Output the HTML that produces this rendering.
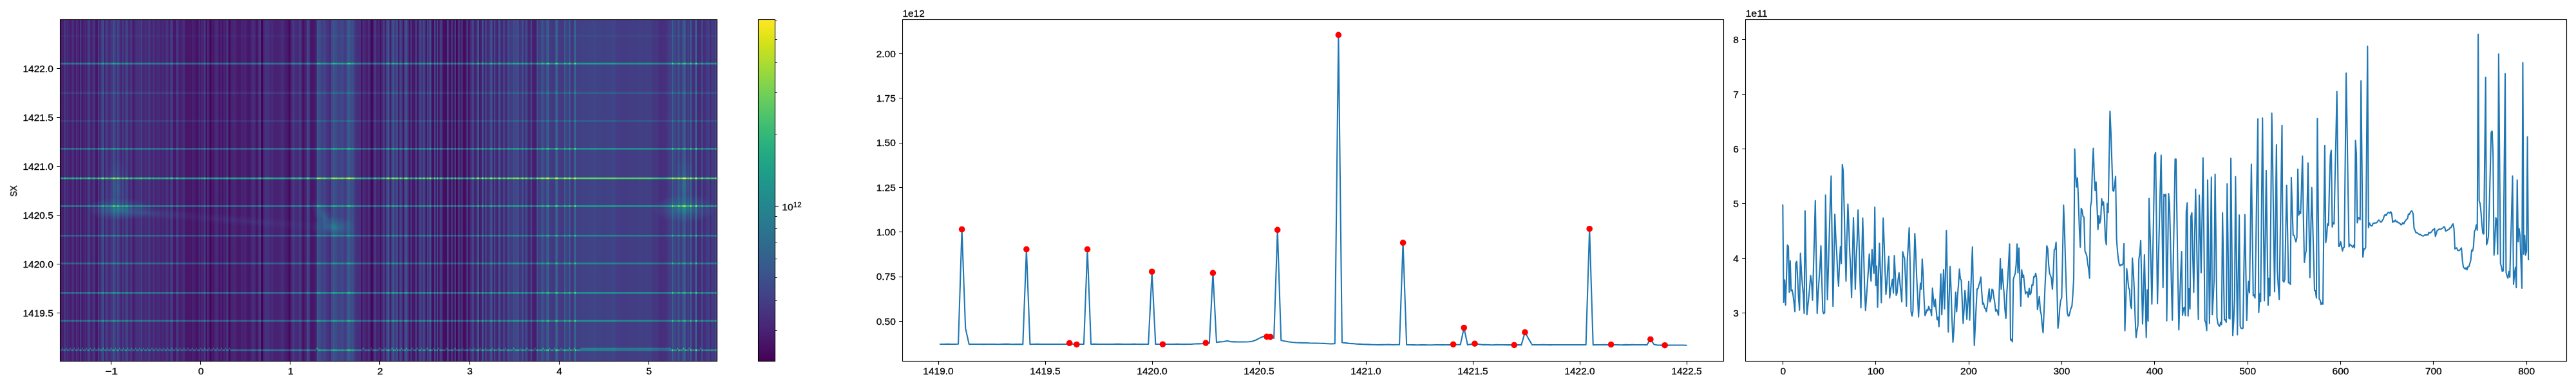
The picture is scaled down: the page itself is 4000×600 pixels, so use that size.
<!DOCTYPE html>
<html><head><meta charset="utf-8"><title>figure</title>
<style>html,body{margin:0;padding:0;background:#fff}body{width:4000px;height:600px;overflow:hidden}svg{display:block}text{font-family:"Liberation Sans",sans-serif;fill:#000}</style>
</head><body>
<svg width="4000" height="600" viewBox="0 0 4000 600">
<rect width="4000" height="600" fill="#fff"/>
<defs>
<filter id="vir" filterUnits="userSpaceOnUse" x="93.5" y="30.5" width="1020" height="531" color-interpolation-filters="sRGB">
<feColorMatrix type="matrix" values="1 1 1 0 0 1 1 1 0 0 1 1 1 0 0 0 0 0 0 1"/>
<feComponentTransfer><feFuncR type="table" tableValues="0.267 0.27 0.273 0.275 0.277 0.279 0.28 0.281 0.282 0.283 0.283 0.283 0.283 0.282 0.281 0.28 0.279 0.277 0.275 0.273 0.271 0.268 0.265 0.262 0.259 0.256 0.252 0.249 0.245 0.241 0.237 0.234 0.23 0.226 0.222 0.218 0.214 0.211 0.207 0.203 0.199 0.196 0.192 0.189 0.186 0.182 0.179 0.176 0.173 0.17 0.167 0.164 0.161 0.158 0.155 0.152 0.149 0.146 0.143 0.141 0.138 0.135 0.132 0.13 0.128 0.125 0.123 0.122 0.121 0.12 0.119 0.12 0.121 0.122 0.125 0.128 0.132 0.137 0.143 0.15 0.158 0.166 0.176 0.186 0.197 0.208 0.22 0.233 0.246 0.26 0.274 0.289 0.304 0.32 0.336 0.352 0.369 0.386 0.404 0.422 0.44 0.459 0.478 0.497 0.516 0.536 0.555 0.576 0.596 0.616 0.637 0.658 0.678 0.699 0.72 0.741 0.762 0.783 0.804 0.825 0.846 0.866 0.886 0.906 0.926 0.946 0.965 0.984 0.993"/><feFuncG type="table" tableValues="0.005 0.015 0.026 0.038 0.05 0.062 0.073 0.084 0.095 0.105 0.116 0.126 0.136 0.146 0.156 0.166 0.175 0.185 0.195 0.205 0.214 0.224 0.233 0.242 0.252 0.261 0.27 0.279 0.288 0.296 0.305 0.314 0.322 0.331 0.339 0.347 0.356 0.364 0.372 0.38 0.388 0.395 0.403 0.411 0.419 0.426 0.434 0.441 0.449 0.456 0.464 0.471 0.479 0.486 0.493 0.501 0.508 0.515 0.523 0.53 0.537 0.545 0.552 0.56 0.567 0.574 0.582 0.589 0.596 0.604 0.611 0.618 0.626 0.633 0.64 0.648 0.655 0.662 0.669 0.677 0.684 0.691 0.698 0.705 0.712 0.719 0.726 0.732 0.739 0.745 0.752 0.758 0.765 0.771 0.777 0.783 0.789 0.795 0.8 0.806 0.811 0.816 0.821 0.826 0.831 0.836 0.84 0.845 0.849 0.853 0.857 0.86 0.864 0.867 0.87 0.873 0.876 0.879 0.882 0.885 0.887 0.89 0.892 0.895 0.897 0.9 0.902 0.905 0.906"/><feFuncB type="table" tableValues="0.329 0.341 0.353 0.365 0.376 0.387 0.397 0.407 0.417 0.427 0.436 0.445 0.453 0.462 0.469 0.476 0.483 0.49 0.496 0.502 0.507 0.512 0.517 0.521 0.525 0.528 0.532 0.535 0.537 0.54 0.542 0.544 0.546 0.547 0.549 0.55 0.551 0.552 0.553 0.554 0.555 0.555 0.556 0.556 0.557 0.557 0.557 0.558 0.558 0.558 0.558 0.558 0.558 0.558 0.558 0.558 0.557 0.557 0.556 0.556 0.555 0.554 0.553 0.552 0.551 0.549 0.547 0.546 0.544 0.541 0.539 0.536 0.533 0.53 0.527 0.523 0.52 0.516 0.511 0.507 0.502 0.497 0.491 0.485 0.479 0.473 0.466 0.459 0.452 0.444 0.437 0.428 0.42 0.411 0.402 0.393 0.383 0.373 0.363 0.352 0.341 0.33 0.318 0.306 0.294 0.282 0.269 0.256 0.243 0.23 0.217 0.203 0.19 0.176 0.163 0.15 0.137 0.125 0.115 0.106 0.1 0.096 0.095 0.098 0.104 0.113 0.124 0.137 0.144"/></feComponentTransfer>
</filter>
<linearGradient id="gc" gradientUnits="userSpaceOnUse" x1="93.5" y1="0" x2="1113.5" y2="0">
<stop offset="0.00009" stop-color="#190000"/><stop offset="0.00116" stop-color="#190000"/>
<stop offset="0.00133" stop-color="#140000"/><stop offset="0.0024" stop-color="#140000"/>
<stop offset="0.00258" stop-color="#1d0000"/><stop offset="0.00365" stop-color="#1d0000"/>
<stop offset="0.00382" stop-color="#120000"/><stop offset="0.00489" stop-color="#120000"/>
<stop offset="0.00507" stop-color="#1f0000"/><stop offset="0.00614" stop-color="#1f0000"/>
<stop offset="0.00631" stop-color="#2a0000"/><stop offset="0.00738" stop-color="#2a0000"/>
<stop offset="0.00756" stop-color="#290000"/><stop offset="0.00863" stop-color="#290000"/>
<stop offset="0.0088" stop-color="#180000"/><stop offset="0.00988" stop-color="#180000"/>
<stop offset="0.01005" stop-color="#240000"/><stop offset="0.01112" stop-color="#240000"/>
<stop offset="0.0113" stop-color="#190000"/><stop offset="0.01237" stop-color="#190000"/>
<stop offset="0.01254" stop-color="#190000"/><stop offset="0.01361" stop-color="#190000"/>
<stop offset="0.01379" stop-color="#170000"/><stop offset="0.01486" stop-color="#170000"/>
<stop offset="0.01503" stop-color="#140000"/><stop offset="0.0161" stop-color="#140000"/>
<stop offset="0.01628" stop-color="#0f0000"/><stop offset="0.01735" stop-color="#0f0000"/>
<stop offset="0.01752" stop-color="#230000"/><stop offset="0.01859" stop-color="#230000"/>
<stop offset="0.01877" stop-color="#240000"/><stop offset="0.01984" stop-color="#240000"/>
<stop offset="0.02001" stop-color="#1d0000"/><stop offset="0.02108" stop-color="#1d0000"/>
<stop offset="0.02126" stop-color="#160000"/><stop offset="0.02233" stop-color="#160000"/>
<stop offset="0.0225" stop-color="#100000"/><stop offset="0.02357" stop-color="#100000"/>
<stop offset="0.02375" stop-color="#270000"/><stop offset="0.02482" stop-color="#270000"/>
<stop offset="0.02499" stop-color="#200000"/><stop offset="0.02606" stop-color="#200000"/>
<stop offset="0.02624" stop-color="#1b0000"/><stop offset="0.02731" stop-color="#1b0000"/>
<stop offset="0.02748" stop-color="#170000"/><stop offset="0.02856" stop-color="#170000"/>
<stop offset="0.02873" stop-color="#0f0000"/><stop offset="0.0298" stop-color="#0f0000"/>
<stop offset="0.02998" stop-color="#340000"/><stop offset="0.03105" stop-color="#340000"/>
<stop offset="0.03122" stop-color="#230000"/><stop offset="0.03229" stop-color="#230000"/>
<stop offset="0.03247" stop-color="#0e0000"/><stop offset="0.03354" stop-color="#0e0000"/>
<stop offset="0.03371" stop-color="#120000"/><stop offset="0.03478" stop-color="#120000"/>
<stop offset="0.03496" stop-color="#160000"/><stop offset="0.03603" stop-color="#160000"/>
<stop offset="0.0362" stop-color="#1b0000"/><stop offset="0.03727" stop-color="#1b0000"/>
<stop offset="0.03745" stop-color="#1f0000"/><stop offset="0.03852" stop-color="#1f0000"/>
<stop offset="0.03869" stop-color="#1c0000"/><stop offset="0.03976" stop-color="#1c0000"/>
<stop offset="0.03994" stop-color="#150000"/><stop offset="0.04101" stop-color="#150000"/>
<stop offset="0.04118" stop-color="#210000"/><stop offset="0.04225" stop-color="#210000"/>
<stop offset="0.04243" stop-color="#2d0000"/><stop offset="0.0435" stop-color="#2d0000"/>
<stop offset="0.04367" stop-color="#370000"/><stop offset="0.04474" stop-color="#370000"/>
<stop offset="0.04492" stop-color="#250000"/><stop offset="0.04599" stop-color="#250000"/>
<stop offset="0.04616" stop-color="#0f0000"/><stop offset="0.04724" stop-color="#0f0000"/>
<stop offset="0.04741" stop-color="#180000"/><stop offset="0.04848" stop-color="#180000"/>
<stop offset="0.04866" stop-color="#1d0000"/><stop offset="0.04973" stop-color="#1d0000"/>
<stop offset="0.0499" stop-color="#220000"/><stop offset="0.05097" stop-color="#220000"/>
<stop offset="0.05115" stop-color="#290000"/><stop offset="0.05222" stop-color="#290000"/>
<stop offset="0.05239" stop-color="#1d0000"/><stop offset="0.05346" stop-color="#1d0000"/>
<stop offset="0.05364" stop-color="#100000"/><stop offset="0.05471" stop-color="#100000"/>
<stop offset="0.05488" stop-color="#0f0000"/><stop offset="0.05595" stop-color="#0f0000"/>
<stop offset="0.05613" stop-color="#0f0000"/><stop offset="0.0572" stop-color="#0f0000"/>
<stop offset="0.05737" stop-color="#390000"/><stop offset="0.05844" stop-color="#390000"/>
<stop offset="0.05862" stop-color="#290000"/><stop offset="0.05969" stop-color="#290000"/>
<stop offset="0.05986" stop-color="#150000"/><stop offset="0.06093" stop-color="#150000"/>
<stop offset="0.06111" stop-color="#210000"/><stop offset="0.06218" stop-color="#210000"/>
<stop offset="0.06235" stop-color="#2d0000"/><stop offset="0.06342" stop-color="#2d0000"/>
<stop offset="0.0636" stop-color="#360000"/><stop offset="0.06467" stop-color="#360000"/>
<stop offset="0.06484" stop-color="#3e0000"/><stop offset="0.06592" stop-color="#3e0000"/>
<stop offset="0.06609" stop-color="#2c0000"/><stop offset="0.06716" stop-color="#2c0000"/>
<stop offset="0.06733" stop-color="#120000"/><stop offset="0.06841" stop-color="#120000"/>
<stop offset="0.06858" stop-color="#230000"/><stop offset="0.06965" stop-color="#230000"/>
<stop offset="0.06983" stop-color="#330000"/><stop offset="0.0709" stop-color="#330000"/>
<stop offset="0.07107" stop-color="#2c0000"/><stop offset="0.07214" stop-color="#2c0000"/>
<stop offset="0.07232" stop-color="#270000"/><stop offset="0.07339" stop-color="#270000"/>
<stop offset="0.07356" stop-color="#1f0000"/><stop offset="0.07463" stop-color="#1f0000"/>
<stop offset="0.07481" stop-color="#1a0000"/><stop offset="0.07588" stop-color="#1a0000"/>
<stop offset="0.07605" stop-color="#230000"/><stop offset="0.07712" stop-color="#230000"/>
<stop offset="0.0773" stop-color="#290000"/><stop offset="0.07837" stop-color="#290000"/>
<stop offset="0.07854" stop-color="#230000"/><stop offset="0.07961" stop-color="#230000"/>
<stop offset="0.07979" stop-color="#410000"/><stop offset="0.08086" stop-color="#410000"/>
<stop offset="0.08103" stop-color="#3f0000"/><stop offset="0.0821" stop-color="#3f0000"/>
<stop offset="0.08228" stop-color="#350000"/><stop offset="0.08335" stop-color="#350000"/>
<stop offset="0.08352" stop-color="#290000"/><stop offset="0.0846" stop-color="#290000"/>
<stop offset="0.08477" stop-color="#1d0000"/><stop offset="0.08584" stop-color="#1d0000"/>
<stop offset="0.08601" stop-color="#2c0000"/><stop offset="0.08709" stop-color="#2c0000"/>
<stop offset="0.08726" stop-color="#360000"/><stop offset="0.08833" stop-color="#360000"/>
<stop offset="0.08851" stop-color="#300000"/><stop offset="0.08958" stop-color="#300000"/>
<stop offset="0.08975" stop-color="#280000"/><stop offset="0.09082" stop-color="#280000"/>
<stop offset="0.091" stop-color="#210000"/><stop offset="0.09207" stop-color="#210000"/>
<stop offset="0.09224" stop-color="#160000"/><stop offset="0.09331" stop-color="#160000"/>
<stop offset="0.09349" stop-color="#260000"/><stop offset="0.09456" stop-color="#260000"/>
<stop offset="0.09473" stop-color="#320000"/><stop offset="0.0958" stop-color="#320000"/>
<stop offset="0.09598" stop-color="#270000"/><stop offset="0.09705" stop-color="#270000"/>
<stop offset="0.09722" stop-color="#190000"/><stop offset="0.09829" stop-color="#190000"/>
<stop offset="0.09847" stop-color="#250000"/><stop offset="0.09954" stop-color="#250000"/>
<stop offset="0.09971" stop-color="#2b0000"/><stop offset="0.10078" stop-color="#2b0000"/>
<stop offset="0.10096" stop-color="#340000"/><stop offset="0.10203" stop-color="#340000"/>
<stop offset="0.1022" stop-color="#2b0000"/><stop offset="0.10328" stop-color="#2b0000"/>
<stop offset="0.10345" stop-color="#1e0000"/><stop offset="0.10452" stop-color="#1e0000"/>
<stop offset="0.10469" stop-color="#110000"/><stop offset="0.10577" stop-color="#110000"/>
<stop offset="0.10594" stop-color="#250000"/><stop offset="0.10701" stop-color="#250000"/>
<stop offset="0.10719" stop-color="#320000"/><stop offset="0.10826" stop-color="#320000"/>
<stop offset="0.10843" stop-color="#270000"/><stop offset="0.1095" stop-color="#270000"/>
<stop offset="0.10968" stop-color="#1a0000"/><stop offset="0.11075" stop-color="#1a0000"/>
<stop offset="0.11092" stop-color="#100000"/><stop offset="0.11199" stop-color="#100000"/>
<stop offset="0.11217" stop-color="#160000"/><stop offset="0.11324" stop-color="#160000"/>
<stop offset="0.11341" stop-color="#1c0000"/><stop offset="0.11448" stop-color="#1c0000"/>
<stop offset="0.11466" stop-color="#210000"/><stop offset="0.11573" stop-color="#210000"/>
<stop offset="0.1159" stop-color="#270000"/><stop offset="0.11697" stop-color="#270000"/>
<stop offset="0.11715" stop-color="#210000"/><stop offset="0.11822" stop-color="#210000"/>
<stop offset="0.11839" stop-color="#1d0000"/><stop offset="0.11946" stop-color="#1d0000"/>
<stop offset="0.11964" stop-color="#280000"/><stop offset="0.12071" stop-color="#280000"/>
<stop offset="0.12088" stop-color="#230000"/><stop offset="0.12196" stop-color="#230000"/>
<stop offset="0.12213" stop-color="#200000"/><stop offset="0.1232" stop-color="#200000"/>
<stop offset="0.12337" stop-color="#350000"/><stop offset="0.12445" stop-color="#350000"/>
<stop offset="0.12462" stop-color="#1b0000"/><stop offset="0.12569" stop-color="#1b0000"/>
<stop offset="0.12587" stop-color="#220000"/><stop offset="0.12694" stop-color="#220000"/>
<stop offset="0.12711" stop-color="#110000"/><stop offset="0.12818" stop-color="#110000"/>
<stop offset="0.12836" stop-color="#1f0000"/><stop offset="0.12943" stop-color="#1f0000"/>
<stop offset="0.1296" stop-color="#2a0000"/><stop offset="0.13067" stop-color="#2a0000"/>
<stop offset="0.13085" stop-color="#200000"/><stop offset="0.13192" stop-color="#200000"/>
<stop offset="0.13209" stop-color="#140000"/><stop offset="0.13316" stop-color="#140000"/>
<stop offset="0.13334" stop-color="#240000"/><stop offset="0.13441" stop-color="#240000"/>
<stop offset="0.13458" stop-color="#320000"/><stop offset="0.13565" stop-color="#320000"/>
<stop offset="0.13583" stop-color="#2a0000"/><stop offset="0.1369" stop-color="#2a0000"/>
<stop offset="0.13707" stop-color="#210000"/><stop offset="0.13814" stop-color="#210000"/>
<stop offset="0.13832" stop-color="#170000"/><stop offset="0.13939" stop-color="#170000"/>
<stop offset="0.13956" stop-color="#1c0000"/><stop offset="0.14064" stop-color="#1c0000"/>
<stop offset="0.14081" stop-color="#220000"/><stop offset="0.14188" stop-color="#220000"/>
<stop offset="0.14205" stop-color="#260000"/><stop offset="0.14313" stop-color="#260000"/>
<stop offset="0.1433" stop-color="#160000"/><stop offset="0.14437" stop-color="#160000"/>
<stop offset="0.14455" stop-color="#190000"/><stop offset="0.14562" stop-color="#190000"/>
<stop offset="0.14579" stop-color="#1b0000"/><stop offset="0.14686" stop-color="#1b0000"/>
<stop offset="0.14704" stop-color="#1d0000"/><stop offset="0.14811" stop-color="#1d0000"/>
<stop offset="0.14828" stop-color="#180000"/><stop offset="0.14935" stop-color="#180000"/>
<stop offset="0.14953" stop-color="#260000"/><stop offset="0.1506" stop-color="#260000"/>
<stop offset="0.15077" stop-color="#1f0000"/><stop offset="0.15184" stop-color="#1f0000"/>
<stop offset="0.15202" stop-color="#170000"/><stop offset="0.15309" stop-color="#170000"/>
<stop offset="0.15326" stop-color="#180000"/><stop offset="0.15433" stop-color="#180000"/>
<stop offset="0.15451" stop-color="#1d0000"/><stop offset="0.15558" stop-color="#1d0000"/>
<stop offset="0.15575" stop-color="#200000"/><stop offset="0.15682" stop-color="#200000"/>
<stop offset="0.157" stop-color="#1c0000"/><stop offset="0.15807" stop-color="#1c0000"/>
<stop offset="0.15824" stop-color="#180000"/><stop offset="0.15932" stop-color="#180000"/>
<stop offset="0.15949" stop-color="#140000"/><stop offset="0.16056" stop-color="#140000"/>
<stop offset="0.16073" stop-color="#270000"/><stop offset="0.16181" stop-color="#270000"/>
<stop offset="0.16198" stop-color="#260000"/><stop offset="0.16305" stop-color="#260000"/>
<stop offset="0.16323" stop-color="#250000"/><stop offset="0.1643" stop-color="#250000"/>
<stop offset="0.16447" stop-color="#1d0000"/><stop offset="0.16554" stop-color="#1d0000"/>
<stop offset="0.16572" stop-color="#120000"/><stop offset="0.16679" stop-color="#120000"/>
<stop offset="0.16696" stop-color="#250000"/><stop offset="0.16803" stop-color="#250000"/>
<stop offset="0.16821" stop-color="#2a0000"/><stop offset="0.16928" stop-color="#2a0000"/>
<stop offset="0.16945" stop-color="#2f0000"/><stop offset="0.17052" stop-color="#2f0000"/>
<stop offset="0.1707" stop-color="#220000"/><stop offset="0.17177" stop-color="#220000"/>
<stop offset="0.17194" stop-color="#0f0000"/><stop offset="0.17301" stop-color="#0f0000"/>
<stop offset="0.17319" stop-color="#0d0000"/><stop offset="0.17426" stop-color="#0d0000"/>
<stop offset="0.17443" stop-color="#100000"/><stop offset="0.1755" stop-color="#100000"/>
<stop offset="0.17568" stop-color="#200000"/><stop offset="0.17675" stop-color="#200000"/>
<stop offset="0.17692" stop-color="#2d0000"/><stop offset="0.178" stop-color="#2d0000"/>
<stop offset="0.17817" stop-color="#280000"/><stop offset="0.17924" stop-color="#280000"/>
<stop offset="0.17941" stop-color="#1e0000"/><stop offset="0.18049" stop-color="#1e0000"/>
<stop offset="0.18066" stop-color="#170000"/><stop offset="0.18173" stop-color="#170000"/>
<stop offset="0.18191" stop-color="#0d0000"/><stop offset="0.18298" stop-color="#0d0000"/>
<stop offset="0.18315" stop-color="#150000"/><stop offset="0.18422" stop-color="#150000"/>
<stop offset="0.1844" stop-color="#1c0000"/><stop offset="0.18547" stop-color="#1c0000"/>
<stop offset="0.18564" stop-color="#190000"/><stop offset="0.18671" stop-color="#190000"/>
<stop offset="0.18689" stop-color="#250000"/><stop offset="0.18796" stop-color="#250000"/>
<stop offset="0.18813" stop-color="#1f0000"/><stop offset="0.1892" stop-color="#1f0000"/>
<stop offset="0.18938" stop-color="#150000"/><stop offset="0.19045" stop-color="#150000"/>
<stop offset="0.19062" stop-color="#0e0000"/><stop offset="0.19169" stop-color="#0e0000"/>
<stop offset="0.19187" stop-color="#0f0000"/><stop offset="0.19294" stop-color="#0f0000"/>
<stop offset="0.19311" stop-color="#100000"/><stop offset="0.19418" stop-color="#100000"/>
<stop offset="0.19436" stop-color="#100000"/><stop offset="0.19543" stop-color="#100000"/>
<stop offset="0.1956" stop-color="#120000"/><stop offset="0.19667" stop-color="#120000"/>
<stop offset="0.19685" stop-color="#100000"/><stop offset="0.19792" stop-color="#100000"/>
<stop offset="0.19809" stop-color="#100000"/><stop offset="0.19917" stop-color="#100000"/>
<stop offset="0.19934" stop-color="#0e0000"/><stop offset="0.20041" stop-color="#0e0000"/>
<stop offset="0.20059" stop-color="#1a0000"/><stop offset="0.20166" stop-color="#1a0000"/>
<stop offset="0.20183" stop-color="#150000"/><stop offset="0.2029" stop-color="#150000"/>
<stop offset="0.20308" stop-color="#120000"/><stop offset="0.20415" stop-color="#120000"/>
<stop offset="0.20432" stop-color="#150000"/><stop offset="0.20539" stop-color="#150000"/>
<stop offset="0.20557" stop-color="#100000"/><stop offset="0.20664" stop-color="#100000"/>
<stop offset="0.20681" stop-color="#0c0000"/><stop offset="0.20788" stop-color="#0c0000"/>
<stop offset="0.20806" stop-color="#0d0000"/><stop offset="0.20913" stop-color="#0d0000"/>
<stop offset="0.2093" stop-color="#080000"/><stop offset="0.21037" stop-color="#080000"/>
<stop offset="0.21055" stop-color="#150000"/><stop offset="0.21162" stop-color="#150000"/>
<stop offset="0.21179" stop-color="#1f0000"/><stop offset="0.21286" stop-color="#1f0000"/>
<stop offset="0.21304" stop-color="#0e0000"/><stop offset="0.21411" stop-color="#0e0000"/>
<stop offset="0.21428" stop-color="#180000"/><stop offset="0.21535" stop-color="#180000"/>
<stop offset="0.21553" stop-color="#210000"/><stop offset="0.2166" stop-color="#210000"/>
<stop offset="0.21677" stop-color="#110000"/><stop offset="0.21785" stop-color="#110000"/>
<stop offset="0.21802" stop-color="#1f0000"/><stop offset="0.21909" stop-color="#1f0000"/>
<stop offset="0.21927" stop-color="#2e0000"/><stop offset="0.22034" stop-color="#2e0000"/>
<stop offset="0.22051" stop-color="#1c0000"/><stop offset="0.22158" stop-color="#1c0000"/>
<stop offset="0.22176" stop-color="#050000"/><stop offset="0.22283" stop-color="#050000"/>
<stop offset="0.223" stop-color="#160000"/><stop offset="0.22407" stop-color="#160000"/>
<stop offset="0.22425" stop-color="#220000"/><stop offset="0.22532" stop-color="#220000"/>
<stop offset="0.22549" stop-color="#190000"/><stop offset="0.22656" stop-color="#190000"/>
<stop offset="0.22674" stop-color="#0c0000"/><stop offset="0.22781" stop-color="#0c0000"/>
<stop offset="0.22798" stop-color="#000000"/><stop offset="0.22905" stop-color="#000000"/>
<stop offset="0.22923" stop-color="#060000"/><stop offset="0.2303" stop-color="#060000"/>
<stop offset="0.23047" stop-color="#100000"/><stop offset="0.23154" stop-color="#100000"/>
<stop offset="0.23172" stop-color="#180000"/><stop offset="0.23279" stop-color="#180000"/>
<stop offset="0.23296" stop-color="#0f0000"/><stop offset="0.23403" stop-color="#0f0000"/>
<stop offset="0.23421" stop-color="#170000"/><stop offset="0.23528" stop-color="#170000"/>
<stop offset="0.23545" stop-color="#1b0000"/><stop offset="0.23653" stop-color="#1b0000"/>
<stop offset="0.2367" stop-color="#210000"/><stop offset="0.23777" stop-color="#210000"/>
<stop offset="0.23795" stop-color="#1d0000"/><stop offset="0.23902" stop-color="#1d0000"/>
<stop offset="0.23919" stop-color="#1d0000"/><stop offset="0.24026" stop-color="#1d0000"/>
<stop offset="0.24044" stop-color="#140000"/><stop offset="0.24151" stop-color="#140000"/>
<stop offset="0.24168" stop-color="#0a0000"/><stop offset="0.24275" stop-color="#0a0000"/>
<stop offset="0.24293" stop-color="#110000"/><stop offset="0.244" stop-color="#110000"/>
<stop offset="0.24417" stop-color="#190000"/><stop offset="0.24524" stop-color="#190000"/>
<stop offset="0.24542" stop-color="#140000"/><stop offset="0.24649" stop-color="#140000"/>
<stop offset="0.24666" stop-color="#0c0000"/><stop offset="0.24773" stop-color="#0c0000"/>
<stop offset="0.24791" stop-color="#140000"/><stop offset="0.24898" stop-color="#140000"/>
<stop offset="0.24915" stop-color="#1c0000"/><stop offset="0.25022" stop-color="#1c0000"/>
<stop offset="0.2504" stop-color="#0b0000"/><stop offset="0.25147" stop-color="#0b0000"/>
<stop offset="0.25164" stop-color="#170000"/><stop offset="0.25271" stop-color="#170000"/>
<stop offset="0.25289" stop-color="#210000"/><stop offset="0.25396" stop-color="#210000"/>
<stop offset="0.25413" stop-color="#290000"/><stop offset="0.25521" stop-color="#290000"/>
<stop offset="0.25538" stop-color="#180000"/><stop offset="0.25645" stop-color="#180000"/>
<stop offset="0.25663" stop-color="#000000"/><stop offset="0.2577" stop-color="#000000"/>
<stop offset="0.25787" stop-color="#080000"/><stop offset="0.25894" stop-color="#080000"/>
<stop offset="0.25912" stop-color="#120000"/><stop offset="0.26019" stop-color="#120000"/>
<stop offset="0.26036" stop-color="#190000"/><stop offset="0.26143" stop-color="#190000"/>
<stop offset="0.26161" stop-color="#1a0000"/><stop offset="0.26268" stop-color="#1a0000"/>
<stop offset="0.26285" stop-color="#1b0000"/><stop offset="0.26392" stop-color="#1b0000"/>
<stop offset="0.2641" stop-color="#1c0000"/><stop offset="0.26517" stop-color="#1c0000"/>
<stop offset="0.26534" stop-color="#1e0000"/><stop offset="0.26641" stop-color="#1e0000"/>
<stop offset="0.26659" stop-color="#180000"/><stop offset="0.26766" stop-color="#180000"/>
<stop offset="0.26783" stop-color="#130000"/><stop offset="0.2689" stop-color="#130000"/>
<stop offset="0.26908" stop-color="#130000"/><stop offset="0.27015" stop-color="#130000"/>
<stop offset="0.27032" stop-color="#110000"/><stop offset="0.27139" stop-color="#110000"/>
<stop offset="0.27157" stop-color="#110000"/><stop offset="0.27264" stop-color="#110000"/>
<stop offset="0.27281" stop-color="#0f0000"/><stop offset="0.27389" stop-color="#0f0000"/>
<stop offset="0.27406" stop-color="#120000"/><stop offset="0.27513" stop-color="#120000"/>
<stop offset="0.27531" stop-color="#160000"/><stop offset="0.27638" stop-color="#160000"/>
<stop offset="0.27655" stop-color="#190000"/><stop offset="0.27762" stop-color="#190000"/>
<stop offset="0.2778" stop-color="#140000"/><stop offset="0.27887" stop-color="#140000"/>
<stop offset="0.27904" stop-color="#150000"/><stop offset="0.28011" stop-color="#150000"/>
<stop offset="0.28029" stop-color="#190000"/><stop offset="0.28136" stop-color="#190000"/>
<stop offset="0.28153" stop-color="#190000"/><stop offset="0.2826" stop-color="#190000"/>
<stop offset="0.28278" stop-color="#160000"/><stop offset="0.28385" stop-color="#160000"/>
<stop offset="0.28402" stop-color="#140000"/><stop offset="0.28509" stop-color="#140000"/>
<stop offset="0.28527" stop-color="#100000"/><stop offset="0.28634" stop-color="#100000"/>
<stop offset="0.28651" stop-color="#100000"/><stop offset="0.28758" stop-color="#100000"/>
<stop offset="0.28776" stop-color="#0f0000"/><stop offset="0.28883" stop-color="#0f0000"/>
<stop offset="0.289" stop-color="#0e0000"/><stop offset="0.29007" stop-color="#0e0000"/>
<stop offset="0.29025" stop-color="#1b0000"/><stop offset="0.29132" stop-color="#1b0000"/>
<stop offset="0.29149" stop-color="#250000"/><stop offset="0.29257" stop-color="#250000"/>
<stop offset="0.29274" stop-color="#190000"/><stop offset="0.29381" stop-color="#190000"/>
<stop offset="0.29399" stop-color="#210000"/><stop offset="0.29506" stop-color="#210000"/>
<stop offset="0.29523" stop-color="#1c0000"/><stop offset="0.2963" stop-color="#1c0000"/>
<stop offset="0.29648" stop-color="#180000"/><stop offset="0.29755" stop-color="#180000"/>
<stop offset="0.29772" stop-color="#100000"/><stop offset="0.29879" stop-color="#100000"/>
<stop offset="0.29897" stop-color="#0c0000"/><stop offset="0.30004" stop-color="#0c0000"/>
<stop offset="0.30021" stop-color="#180000"/><stop offset="0.30128" stop-color="#180000"/>
<stop offset="0.30146" stop-color="#1e0000"/><stop offset="0.30253" stop-color="#1e0000"/>
<stop offset="0.3027" stop-color="#240000"/><stop offset="0.30377" stop-color="#240000"/>
<stop offset="0.30395" stop-color="#2a0000"/><stop offset="0.30502" stop-color="#2a0000"/>
<stop offset="0.30519" stop-color="#010000"/><stop offset="0.30626" stop-color="#010000"/>
<stop offset="0.30644" stop-color="#010000"/><stop offset="0.30751" stop-color="#010000"/>
<stop offset="0.30768" stop-color="#000000"/><stop offset="0.30875" stop-color="#000000"/>
<stop offset="0.30893" stop-color="#1d0000"/><stop offset="0.31" stop-color="#1d0000"/>
<stop offset="0.31017" stop-color="#1f0000"/><stop offset="0.31125" stop-color="#1f0000"/>
<stop offset="0.31142" stop-color="#1f0000"/><stop offset="0.31249" stop-color="#1f0000"/>
<stop offset="0.31267" stop-color="#230000"/><stop offset="0.31374" stop-color="#230000"/>
<stop offset="0.31391" stop-color="#2a0000"/><stop offset="0.31498" stop-color="#2a0000"/>
<stop offset="0.31516" stop-color="#200000"/><stop offset="0.31623" stop-color="#200000"/>
<stop offset="0.3164" stop-color="#290000"/><stop offset="0.31747" stop-color="#290000"/>
<stop offset="0.31765" stop-color="#1e0000"/><stop offset="0.31872" stop-color="#1e0000"/>
<stop offset="0.31889" stop-color="#120000"/><stop offset="0.31996" stop-color="#120000"/>
<stop offset="0.32014" stop-color="#210000"/><stop offset="0.32121" stop-color="#210000"/>
<stop offset="0.32138" stop-color="#1e0000"/><stop offset="0.32245" stop-color="#1e0000"/>
<stop offset="0.32263" stop-color="#1f0000"/><stop offset="0.3237" stop-color="#1f0000"/>
<stop offset="0.32387" stop-color="#1b0000"/><stop offset="0.32494" stop-color="#1b0000"/>
<stop offset="0.32512" stop-color="#170000"/><stop offset="0.32619" stop-color="#170000"/>
<stop offset="0.32636" stop-color="#180000"/><stop offset="0.32743" stop-color="#180000"/>
<stop offset="0.32761" stop-color="#180000"/><stop offset="0.32868" stop-color="#180000"/>
<stop offset="0.32885" stop-color="#160000"/><stop offset="0.32993" stop-color="#160000"/>
<stop offset="0.3301" stop-color="#1a0000"/><stop offset="0.33117" stop-color="#1a0000"/>
<stop offset="0.33134" stop-color="#170000"/><stop offset="0.33242" stop-color="#170000"/>
<stop offset="0.33259" stop-color="#180000"/><stop offset="0.33366" stop-color="#180000"/>
<stop offset="0.33384" stop-color="#1b0000"/><stop offset="0.33491" stop-color="#1b0000"/>
<stop offset="0.33508" stop-color="#1b0000"/><stop offset="0.33615" stop-color="#1b0000"/>
<stop offset="0.33633" stop-color="#1e0000"/><stop offset="0.3374" stop-color="#1e0000"/>
<stop offset="0.33757" stop-color="#1e0000"/><stop offset="0.33864" stop-color="#1e0000"/>
<stop offset="0.33882" stop-color="#200000"/><stop offset="0.33989" stop-color="#200000"/>
<stop offset="0.34006" stop-color="#1e0000"/><stop offset="0.34113" stop-color="#1e0000"/>
<stop offset="0.34131" stop-color="#100000"/><stop offset="0.34238" stop-color="#100000"/>
<stop offset="0.34255" stop-color="#140000"/><stop offset="0.34362" stop-color="#140000"/>
<stop offset="0.3438" stop-color="#160000"/><stop offset="0.34487" stop-color="#160000"/>
<stop offset="0.34504" stop-color="#100000"/><stop offset="0.34611" stop-color="#100000"/>
<stop offset="0.34629" stop-color="#0e0000"/><stop offset="0.34736" stop-color="#0e0000"/>
<stop offset="0.34753" stop-color="#090000"/><stop offset="0.34861" stop-color="#090000"/>
<stop offset="0.34878" stop-color="#050000"/><stop offset="0.34985" stop-color="#050000"/>
<stop offset="0.35002" stop-color="#100000"/><stop offset="0.3511" stop-color="#100000"/>
<stop offset="0.35127" stop-color="#1a0000"/><stop offset="0.35234" stop-color="#1a0000"/>
<stop offset="0.35252" stop-color="#210000"/><stop offset="0.35359" stop-color="#210000"/>
<stop offset="0.35376" stop-color="#290000"/><stop offset="0.35483" stop-color="#290000"/>
<stop offset="0.35501" stop-color="#280000"/><stop offset="0.35608" stop-color="#280000"/>
<stop offset="0.35625" stop-color="#230000"/><stop offset="0.35732" stop-color="#230000"/>
<stop offset="0.3575" stop-color="#1f0000"/><stop offset="0.35857" stop-color="#1f0000"/>
<stop offset="0.35874" stop-color="#1f0000"/><stop offset="0.35981" stop-color="#1f0000"/>
<stop offset="0.35999" stop-color="#1d0000"/><stop offset="0.36106" stop-color="#1d0000"/>
<stop offset="0.36123" stop-color="#190000"/><stop offset="0.3623" stop-color="#190000"/>
<stop offset="0.36248" stop-color="#200000"/><stop offset="0.36355" stop-color="#200000"/>
<stop offset="0.36372" stop-color="#280000"/><stop offset="0.36479" stop-color="#280000"/>
<stop offset="0.36497" stop-color="#280000"/><stop offset="0.36604" stop-color="#280000"/>
<stop offset="0.36621" stop-color="#2b0000"/><stop offset="0.36729" stop-color="#2b0000"/>
<stop offset="0.36746" stop-color="#190000"/><stop offset="0.36853" stop-color="#190000"/>
<stop offset="0.3687" stop-color="#070000"/><stop offset="0.36978" stop-color="#070000"/>
<stop offset="0.36995" stop-color="#0b0000"/><stop offset="0.37102" stop-color="#0b0000"/>
<stop offset="0.3712" stop-color="#110000"/><stop offset="0.37227" stop-color="#110000"/>
<stop offset="0.37244" stop-color="#150000"/><stop offset="0.37351" stop-color="#150000"/>
<stop offset="0.37369" stop-color="#160000"/><stop offset="0.37476" stop-color="#160000"/>
<stop offset="0.37493" stop-color="#260000"/><stop offset="0.376" stop-color="#260000"/>
<stop offset="0.37618" stop-color="#360000"/><stop offset="0.37725" stop-color="#360000"/>
<stop offset="0.37742" stop-color="#2f0000"/><stop offset="0.37849" stop-color="#2f0000"/>
<stop offset="0.37867" stop-color="#240000"/><stop offset="0.37974" stop-color="#240000"/>
<stop offset="0.37991" stop-color="#190000"/><stop offset="0.38098" stop-color="#190000"/>
<stop offset="0.38116" stop-color="#0f0000"/><stop offset="0.38223" stop-color="#0f0000"/>
<stop offset="0.3824" stop-color="#0d0000"/><stop offset="0.38347" stop-color="#0d0000"/>
<stop offset="0.38365" stop-color="#0e0000"/><stop offset="0.38472" stop-color="#0e0000"/>
<stop offset="0.38489" stop-color="#0f0000"/><stop offset="0.38597" stop-color="#0f0000"/>
<stop offset="0.38614" stop-color="#110000"/><stop offset="0.38721" stop-color="#110000"/>
<stop offset="0.38738" stop-color="#120000"/><stop offset="0.38846" stop-color="#120000"/>
<stop offset="0.38863" stop-color="#170000"/><stop offset="0.3897" stop-color="#170000"/>
<stop offset="0.38988" stop-color="#1e0000"/><stop offset="0.39095" stop-color="#1e0000"/>
<stop offset="0.39112" stop-color="#440000"/><stop offset="0.39219" stop-color="#440000"/>
<stop offset="0.39237" stop-color="#3e0000"/><stop offset="0.39344" stop-color="#3e0000"/>
<stop offset="0.39361" stop-color="#3b0000"/><stop offset="0.39468" stop-color="#3b0000"/>
<stop offset="0.39486" stop-color="#3d0000"/><stop offset="0.39593" stop-color="#3d0000"/>
<stop offset="0.3961" stop-color="#370000"/><stop offset="0.39717" stop-color="#370000"/>
<stop offset="0.39735" stop-color="#2f0000"/><stop offset="0.39842" stop-color="#2f0000"/>
<stop offset="0.39859" stop-color="#290000"/><stop offset="0.39966" stop-color="#290000"/>
<stop offset="0.39984" stop-color="#350000"/><stop offset="0.40091" stop-color="#350000"/>
<stop offset="0.40108" stop-color="#340000"/><stop offset="0.40215" stop-color="#340000"/>
<stop offset="0.40233" stop-color="#330000"/><stop offset="0.4034" stop-color="#330000"/>
<stop offset="0.40357" stop-color="#320000"/><stop offset="0.40465" stop-color="#320000"/>
<stop offset="0.40482" stop-color="#280000"/><stop offset="0.40589" stop-color="#280000"/>
<stop offset="0.40606" stop-color="#270000"/><stop offset="0.40714" stop-color="#270000"/>
<stop offset="0.40731" stop-color="#260000"/><stop offset="0.40838" stop-color="#260000"/>
<stop offset="0.40856" stop-color="#230000"/><stop offset="0.40963" stop-color="#230000"/>
<stop offset="0.4098" stop-color="#210000"/><stop offset="0.41087" stop-color="#210000"/>
<stop offset="0.41105" stop-color="#1e0000"/><stop offset="0.41212" stop-color="#1e0000"/>
<stop offset="0.41229" stop-color="#350000"/><stop offset="0.41336" stop-color="#350000"/>
<stop offset="0.41354" stop-color="#370000"/><stop offset="0.41461" stop-color="#370000"/>
<stop offset="0.41478" stop-color="#3f0000"/><stop offset="0.41585" stop-color="#3f0000"/>
<stop offset="0.41603" stop-color="#440000"/><stop offset="0.4171" stop-color="#440000"/>
<stop offset="0.41727" stop-color="#3e0000"/><stop offset="0.41834" stop-color="#3e0000"/>
<stop offset="0.41852" stop-color="#3a0000"/><stop offset="0.41959" stop-color="#3a0000"/>
<stop offset="0.41976" stop-color="#3c0000"/><stop offset="0.42083" stop-color="#3c0000"/>
<stop offset="0.42101" stop-color="#360000"/><stop offset="0.42208" stop-color="#360000"/>
<stop offset="0.42225" stop-color="#2f0000"/><stop offset="0.42333" stop-color="#2f0000"/>
<stop offset="0.4235" stop-color="#330000"/><stop offset="0.42457" stop-color="#330000"/>
<stop offset="0.42474" stop-color="#310000"/><stop offset="0.42582" stop-color="#310000"/>
<stop offset="0.42599" stop-color="#320000"/><stop offset="0.42706" stop-color="#320000"/>
<stop offset="0.42724" stop-color="#380000"/><stop offset="0.42831" stop-color="#380000"/>
<stop offset="0.42848" stop-color="#360000"/><stop offset="0.42955" stop-color="#360000"/>
<stop offset="0.42973" stop-color="#370000"/><stop offset="0.4308" stop-color="#370000"/>
<stop offset="0.43097" stop-color="#330000"/><stop offset="0.43204" stop-color="#330000"/>
<stop offset="0.43222" stop-color="#2c0000"/><stop offset="0.43329" stop-color="#2c0000"/>
<stop offset="0.43346" stop-color="#2a0000"/><stop offset="0.43453" stop-color="#2a0000"/>
<stop offset="0.43471" stop-color="#360000"/><stop offset="0.43578" stop-color="#360000"/>
<stop offset="0.43595" stop-color="#340000"/><stop offset="0.43702" stop-color="#340000"/>
<stop offset="0.4372" stop-color="#410000"/><stop offset="0.43827" stop-color="#410000"/>
<stop offset="0.43844" stop-color="#4d0000"/><stop offset="0.43951" stop-color="#4d0000"/>
<stop offset="0.43969" stop-color="#480000"/><stop offset="0.44076" stop-color="#480000"/>
<stop offset="0.44093" stop-color="#410000"/><stop offset="0.442" stop-color="#410000"/>
<stop offset="0.44218" stop-color="#3a0000"/><stop offset="0.44325" stop-color="#3a0000"/>
<stop offset="0.44342" stop-color="#3a0000"/><stop offset="0.4445" stop-color="#3a0000"/>
<stop offset="0.44467" stop-color="#3c0000"/><stop offset="0.44574" stop-color="#3c0000"/>
<stop offset="0.44592" stop-color="#3e0000"/><stop offset="0.44699" stop-color="#3e0000"/>
<stop offset="0.44716" stop-color="#2c0000"/><stop offset="0.44823" stop-color="#2c0000"/>
<stop offset="0.44841" stop-color="#280000"/><stop offset="0.44948" stop-color="#280000"/>
<stop offset="0.44965" stop-color="#250000"/><stop offset="0.45072" stop-color="#250000"/>
<stop offset="0.4509" stop-color="#230000"/><stop offset="0.45197" stop-color="#230000"/>
<stop offset="0.45214" stop-color="#220000"/><stop offset="0.45321" stop-color="#220000"/>
<stop offset="0.45339" stop-color="#230000"/><stop offset="0.45446" stop-color="#230000"/>
<stop offset="0.45463" stop-color="#230000"/><stop offset="0.4557" stop-color="#230000"/>
<stop offset="0.45588" stop-color="#230000"/><stop offset="0.45695" stop-color="#230000"/>
<stop offset="0.45712" stop-color="#2a0000"/><stop offset="0.45819" stop-color="#2a0000"/>
<stop offset="0.45837" stop-color="#060000"/><stop offset="0.45944" stop-color="#060000"/>
<stop offset="0.45961" stop-color="#140000"/><stop offset="0.46068" stop-color="#140000"/>
<stop offset="0.46086" stop-color="#210000"/><stop offset="0.46193" stop-color="#210000"/>
<stop offset="0.4621" stop-color="#1e0000"/><stop offset="0.46318" stop-color="#1e0000"/>
<stop offset="0.46335" stop-color="#1a0000"/><stop offset="0.46442" stop-color="#1a0000"/>
<stop offset="0.4646" stop-color="#190000"/><stop offset="0.46567" stop-color="#190000"/>
<stop offset="0.46584" stop-color="#120000"/><stop offset="0.46691" stop-color="#120000"/>
<stop offset="0.46709" stop-color="#110000"/><stop offset="0.46816" stop-color="#110000"/>
<stop offset="0.46833" stop-color="#250000"/><stop offset="0.4694" stop-color="#250000"/>
<stop offset="0.46958" stop-color="#210000"/><stop offset="0.47065" stop-color="#210000"/>
<stop offset="0.47082" stop-color="#190000"/><stop offset="0.47189" stop-color="#190000"/>
<stop offset="0.47207" stop-color="#0d0000"/><stop offset="0.47314" stop-color="#0d0000"/>
<stop offset="0.47331" stop-color="#020000"/><stop offset="0.47438" stop-color="#020000"/>
<stop offset="0.47456" stop-color="#060000"/><stop offset="0.47563" stop-color="#060000"/>
<stop offset="0.4758" stop-color="#090000"/><stop offset="0.47687" stop-color="#090000"/>
<stop offset="0.47705" stop-color="#250000"/><stop offset="0.47812" stop-color="#250000"/>
<stop offset="0.47829" stop-color="#270000"/><stop offset="0.47936" stop-color="#270000"/>
<stop offset="0.47954" stop-color="#2b0000"/><stop offset="0.48061" stop-color="#2b0000"/>
<stop offset="0.48078" stop-color="#1c0000"/><stop offset="0.48186" stop-color="#1c0000"/>
<stop offset="0.48203" stop-color="#090000"/><stop offset="0.4831" stop-color="#090000"/>
<stop offset="0.48328" stop-color="#190000"/><stop offset="0.48435" stop-color="#190000"/>
<stop offset="0.48452" stop-color="#260000"/><stop offset="0.48559" stop-color="#260000"/>
<stop offset="0.48577" stop-color="#160000"/><stop offset="0.48684" stop-color="#160000"/>
<stop offset="0.48701" stop-color="#020000"/><stop offset="0.48808" stop-color="#020000"/>
<stop offset="0.48826" stop-color="#190000"/><stop offset="0.48933" stop-color="#190000"/>
<stop offset="0.4895" stop-color="#0b0000"/><stop offset="0.49057" stop-color="#0b0000"/>
<stop offset="0.49075" stop-color="#380000"/><stop offset="0.49182" stop-color="#380000"/>
<stop offset="0.49199" stop-color="#2e0000"/><stop offset="0.49306" stop-color="#2e0000"/>
<stop offset="0.49324" stop-color="#230000"/><stop offset="0.49431" stop-color="#230000"/>
<stop offset="0.49448" stop-color="#130000"/><stop offset="0.49555" stop-color="#130000"/>
<stop offset="0.49573" stop-color="#260000"/><stop offset="0.4968" stop-color="#260000"/>
<stop offset="0.49697" stop-color="#350000"/><stop offset="0.49804" stop-color="#350000"/>
<stop offset="0.49822" stop-color="#430000"/><stop offset="0.49929" stop-color="#430000"/>
<stop offset="0.49946" stop-color="#440000"/><stop offset="0.50054" stop-color="#440000"/>
<stop offset="0.50071" stop-color="#300000"/><stop offset="0.50178" stop-color="#300000"/>
<stop offset="0.50196" stop-color="#130000"/><stop offset="0.50303" stop-color="#130000"/>
<stop offset="0.5032" stop-color="#230000"/><stop offset="0.50427" stop-color="#230000"/>
<stop offset="0.50445" stop-color="#300000"/><stop offset="0.50552" stop-color="#300000"/>
<stop offset="0.50569" stop-color="#3a0000"/><stop offset="0.50676" stop-color="#3a0000"/>
<stop offset="0.50694" stop-color="#430000"/><stop offset="0.50801" stop-color="#430000"/>
<stop offset="0.50818" stop-color="#310000"/><stop offset="0.50925" stop-color="#310000"/>
<stop offset="0.50943" stop-color="#1a0000"/><stop offset="0.5105" stop-color="#1a0000"/>
<stop offset="0.51067" stop-color="#390000"/><stop offset="0.51174" stop-color="#390000"/>
<stop offset="0.51192" stop-color="#380000"/><stop offset="0.51299" stop-color="#380000"/>
<stop offset="0.51316" stop-color="#390000"/><stop offset="0.51423" stop-color="#390000"/>
<stop offset="0.51441" stop-color="#0b0000"/><stop offset="0.51548" stop-color="#0b0000"/>
<stop offset="0.51565" stop-color="#260000"/><stop offset="0.51672" stop-color="#260000"/>
<stop offset="0.5169" stop-color="#390000"/><stop offset="0.51797" stop-color="#390000"/>
<stop offset="0.51814" stop-color="#360000"/><stop offset="0.51922" stop-color="#360000"/>
<stop offset="0.51939" stop-color="#2b0000"/><stop offset="0.52046" stop-color="#2b0000"/>
<stop offset="0.52064" stop-color="#1c0000"/><stop offset="0.52171" stop-color="#1c0000"/>
<stop offset="0.52188" stop-color="#0b0000"/><stop offset="0.52295" stop-color="#0b0000"/>
<stop offset="0.52313" stop-color="#230000"/><stop offset="0.5242" stop-color="#230000"/>
<stop offset="0.52437" stop-color="#340000"/><stop offset="0.52544" stop-color="#340000"/>
<stop offset="0.52562" stop-color="#420000"/><stop offset="0.52669" stop-color="#420000"/>
<stop offset="0.52686" stop-color="#420000"/><stop offset="0.52793" stop-color="#420000"/>
<stop offset="0.52811" stop-color="#320000"/><stop offset="0.52918" stop-color="#320000"/>
<stop offset="0.52935" stop-color="#1e0000"/><stop offset="0.53042" stop-color="#1e0000"/>
<stop offset="0.5306" stop-color="#070000"/><stop offset="0.53167" stop-color="#070000"/>
<stop offset="0.53184" stop-color="#140000"/><stop offset="0.53291" stop-color="#140000"/>
<stop offset="0.53309" stop-color="#200000"/><stop offset="0.53416" stop-color="#200000"/>
<stop offset="0.53433" stop-color="#270000"/><stop offset="0.5354" stop-color="#270000"/>
<stop offset="0.53558" stop-color="#0e0000"/><stop offset="0.53665" stop-color="#0e0000"/>
<stop offset="0.53682" stop-color="#110000"/><stop offset="0.5379" stop-color="#110000"/>
<stop offset="0.53807" stop-color="#110000"/><stop offset="0.53914" stop-color="#110000"/>
<stop offset="0.53932" stop-color="#0e0000"/><stop offset="0.54039" stop-color="#0e0000"/>
<stop offset="0.54056" stop-color="#340000"/><stop offset="0.54163" stop-color="#340000"/>
<stop offset="0.54181" stop-color="#370000"/><stop offset="0.54288" stop-color="#370000"/>
<stop offset="0.54305" stop-color="#0d0000"/><stop offset="0.54412" stop-color="#0d0000"/>
<stop offset="0.5443" stop-color="#190000"/><stop offset="0.54537" stop-color="#190000"/>
<stop offset="0.54554" stop-color="#110000"/><stop offset="0.54661" stop-color="#110000"/>
<stop offset="0.54679" stop-color="#330000"/><stop offset="0.54786" stop-color="#330000"/>
<stop offset="0.54803" stop-color="#340000"/><stop offset="0.5491" stop-color="#340000"/>
<stop offset="0.54928" stop-color="#270000"/><stop offset="0.55035" stop-color="#270000"/>
<stop offset="0.55052" stop-color="#180000"/><stop offset="0.55159" stop-color="#180000"/>
<stop offset="0.55177" stop-color="#2c0000"/><stop offset="0.55284" stop-color="#2c0000"/>
<stop offset="0.55301" stop-color="#3a0000"/><stop offset="0.55408" stop-color="#3a0000"/>
<stop offset="0.55426" stop-color="#2e0000"/><stop offset="0.55533" stop-color="#2e0000"/>
<stop offset="0.5555" stop-color="#1e0000"/><stop offset="0.55658" stop-color="#1e0000"/>
<stop offset="0.55675" stop-color="#0c0000"/><stop offset="0.55782" stop-color="#0c0000"/>
<stop offset="0.558" stop-color="#390000"/><stop offset="0.55907" stop-color="#390000"/>
<stop offset="0.55924" stop-color="#2e0000"/><stop offset="0.56031" stop-color="#2e0000"/>
<stop offset="0.56049" stop-color="#200000"/><stop offset="0.56156" stop-color="#200000"/>
<stop offset="0.56173" stop-color="#330000"/><stop offset="0.5628" stop-color="#330000"/>
<stop offset="0.56298" stop-color="#420000"/><stop offset="0.56405" stop-color="#420000"/>
<stop offset="0.56422" stop-color="#2c0000"/><stop offset="0.56529" stop-color="#2c0000"/>
<stop offset="0.56547" stop-color="#0b0000"/><stop offset="0.56654" stop-color="#0b0000"/>
<stop offset="0.56671" stop-color="#0a0000"/><stop offset="0.56778" stop-color="#0a0000"/>
<stop offset="0.56796" stop-color="#060000"/><stop offset="0.56903" stop-color="#060000"/>
<stop offset="0.5692" stop-color="#3d0000"/><stop offset="0.57027" stop-color="#3d0000"/>
<stop offset="0.57045" stop-color="#270000"/><stop offset="0.57152" stop-color="#270000"/>
<stop offset="0.57169" stop-color="#0a0000"/><stop offset="0.57276" stop-color="#0a0000"/>
<stop offset="0.57294" stop-color="#270000"/><stop offset="0.57401" stop-color="#270000"/>
<stop offset="0.57418" stop-color="#3d0000"/><stop offset="0.57526" stop-color="#3d0000"/>
<stop offset="0.57543" stop-color="#0e0000"/><stop offset="0.5765" stop-color="#0e0000"/>
<stop offset="0.57667" stop-color="#160000"/><stop offset="0.57775" stop-color="#160000"/>
<stop offset="0.57792" stop-color="#1d0000"/><stop offset="0.57899" stop-color="#1d0000"/>
<stop offset="0.57917" stop-color="#3e0000"/><stop offset="0.58024" stop-color="#3e0000"/>
<stop offset="0.58041" stop-color="#2b0000"/><stop offset="0.58148" stop-color="#2b0000"/>
<stop offset="0.58166" stop-color="#0d0000"/><stop offset="0.58273" stop-color="#0d0000"/>
<stop offset="0.5829" stop-color="#0a0000"/><stop offset="0.58397" stop-color="#0a0000"/>
<stop offset="0.58415" stop-color="#090000"/><stop offset="0.58522" stop-color="#090000"/>
<stop offset="0.58539" stop-color="#080000"/><stop offset="0.58646" stop-color="#080000"/>
<stop offset="0.58664" stop-color="#0a0000"/><stop offset="0.58771" stop-color="#0a0000"/>
<stop offset="0.58788" stop-color="#090000"/><stop offset="0.58895" stop-color="#090000"/>
<stop offset="0.58913" stop-color="#340000"/><stop offset="0.5902" stop-color="#340000"/>
<stop offset="0.59037" stop-color="#220000"/><stop offset="0.59144" stop-color="#220000"/>
<stop offset="0.59162" stop-color="#0c0000"/><stop offset="0.59269" stop-color="#0c0000"/>
<stop offset="0.59286" stop-color="#0c0000"/><stop offset="0.59394" stop-color="#0c0000"/>
<stop offset="0.59411" stop-color="#0a0000"/><stop offset="0.59518" stop-color="#0a0000"/>
<stop offset="0.59535" stop-color="#3c0000"/><stop offset="0.59643" stop-color="#3c0000"/>
<stop offset="0.5966" stop-color="#270000"/><stop offset="0.59767" stop-color="#270000"/>
<stop offset="0.59785" stop-color="#0c0000"/><stop offset="0.59892" stop-color="#0c0000"/>
<stop offset="0.59909" stop-color="#0c0000"/><stop offset="0.60016" stop-color="#0c0000"/>
<stop offset="0.60034" stop-color="#420000"/><stop offset="0.60141" stop-color="#420000"/>
<stop offset="0.60158" stop-color="#2a0000"/><stop offset="0.60265" stop-color="#2a0000"/>
<stop offset="0.60283" stop-color="#030000"/><stop offset="0.6039" stop-color="#030000"/>
<stop offset="0.60407" stop-color="#0a0000"/><stop offset="0.60514" stop-color="#0a0000"/>
<stop offset="0.60532" stop-color="#150000"/><stop offset="0.60639" stop-color="#150000"/>
<stop offset="0.60656" stop-color="#3e0000"/><stop offset="0.60763" stop-color="#3e0000"/>
<stop offset="0.60781" stop-color="#250000"/><stop offset="0.60888" stop-color="#250000"/>
<stop offset="0.60905" stop-color="#040000"/><stop offset="0.61012" stop-color="#040000"/>
<stop offset="0.6103" stop-color="#200000"/><stop offset="0.61137" stop-color="#200000"/>
<stop offset="0.61154" stop-color="#330000"/><stop offset="0.61262" stop-color="#330000"/>
<stop offset="0.61279" stop-color="#080000"/><stop offset="0.61386" stop-color="#080000"/>
<stop offset="0.61403" stop-color="#070000"/><stop offset="0.61511" stop-color="#070000"/>
<stop offset="0.61528" stop-color="#070000"/><stop offset="0.61635" stop-color="#070000"/>
<stop offset="0.61653" stop-color="#070000"/><stop offset="0.6176" stop-color="#070000"/>
<stop offset="0.61777" stop-color="#210000"/><stop offset="0.61884" stop-color="#210000"/>
<stop offset="0.61902" stop-color="#330000"/><stop offset="0.62009" stop-color="#330000"/>
<stop offset="0.62026" stop-color="#230000"/><stop offset="0.62133" stop-color="#230000"/>
<stop offset="0.62151" stop-color="#0b0000"/><stop offset="0.62258" stop-color="#0b0000"/>
<stop offset="0.62275" stop-color="#160000"/><stop offset="0.62382" stop-color="#160000"/>
<stop offset="0.624" stop-color="#1c0000"/><stop offset="0.62507" stop-color="#1c0000"/>
<stop offset="0.62524" stop-color="#180000"/><stop offset="0.62631" stop-color="#180000"/>
<stop offset="0.62649" stop-color="#2f0000"/><stop offset="0.62756" stop-color="#2f0000"/>
<stop offset="0.62773" stop-color="#410000"/><stop offset="0.6288" stop-color="#410000"/>
<stop offset="0.62898" stop-color="#2f0000"/><stop offset="0.63005" stop-color="#2f0000"/>
<stop offset="0.63022" stop-color="#170000"/><stop offset="0.6313" stop-color="#170000"/>
<stop offset="0.63147" stop-color="#170000"/><stop offset="0.63254" stop-color="#170000"/>
<stop offset="0.63271" stop-color="#160000"/><stop offset="0.63379" stop-color="#160000"/>
<stop offset="0.63396" stop-color="#2b0000"/><stop offset="0.63503" stop-color="#2b0000"/>
<stop offset="0.63521" stop-color="#3d0000"/><stop offset="0.63628" stop-color="#3d0000"/>
<stop offset="0.63645" stop-color="#4b0000"/><stop offset="0.63752" stop-color="#4b0000"/>
<stop offset="0.6377" stop-color="#0f0000"/><stop offset="0.63877" stop-color="#0f0000"/>
<stop offset="0.63894" stop-color="#170000"/><stop offset="0.64001" stop-color="#170000"/>
<stop offset="0.64019" stop-color="#140000"/><stop offset="0.64126" stop-color="#140000"/>
<stop offset="0.64143" stop-color="#350000"/><stop offset="0.6425" stop-color="#350000"/>
<stop offset="0.64268" stop-color="#4b0000"/><stop offset="0.64375" stop-color="#4b0000"/>
<stop offset="0.64392" stop-color="#340000"/><stop offset="0.64499" stop-color="#340000"/>
<stop offset="0.64517" stop-color="#140000"/><stop offset="0.64624" stop-color="#140000"/>
<stop offset="0.64641" stop-color="#2c0000"/><stop offset="0.64748" stop-color="#2c0000"/>
<stop offset="0.64766" stop-color="#3f0000"/><stop offset="0.64873" stop-color="#3f0000"/>
<stop offset="0.6489" stop-color="#2c0000"/><stop offset="0.64998" stop-color="#2c0000"/>
<stop offset="0.65015" stop-color="#120000"/><stop offset="0.65122" stop-color="#120000"/>
<stop offset="0.65139" stop-color="#1e0000"/><stop offset="0.65247" stop-color="#1e0000"/>
<stop offset="0.65264" stop-color="#170000"/><stop offset="0.65371" stop-color="#170000"/>
<stop offset="0.65389" stop-color="#350000"/><stop offset="0.65496" stop-color="#350000"/>
<stop offset="0.65513" stop-color="#4c0000"/><stop offset="0.6562" stop-color="#4c0000"/>
<stop offset="0.65638" stop-color="#400000"/><stop offset="0.65745" stop-color="#400000"/>
<stop offset="0.65762" stop-color="#2e0000"/><stop offset="0.65869" stop-color="#2e0000"/>
<stop offset="0.65887" stop-color="#180000"/><stop offset="0.65994" stop-color="#180000"/>
<stop offset="0.66011" stop-color="#330000"/><stop offset="0.66118" stop-color="#330000"/>
<stop offset="0.66136" stop-color="#450000"/><stop offset="0.66243" stop-color="#450000"/>
<stop offset="0.6626" stop-color="#210000"/><stop offset="0.66367" stop-color="#210000"/>
<stop offset="0.66385" stop-color="#1b0000"/><stop offset="0.66492" stop-color="#1b0000"/>
<stop offset="0.66509" stop-color="#150000"/><stop offset="0.66616" stop-color="#150000"/>
<stop offset="0.66634" stop-color="#2b0000"/><stop offset="0.66741" stop-color="#2b0000"/>
<stop offset="0.66758" stop-color="#3c0000"/><stop offset="0.66866" stop-color="#3c0000"/>
<stop offset="0.66883" stop-color="#4a0000"/><stop offset="0.6699" stop-color="#4a0000"/>
<stop offset="0.67007" stop-color="#1d0000"/><stop offset="0.67115" stop-color="#1d0000"/>
<stop offset="0.67132" stop-color="#1c0000"/><stop offset="0.67239" stop-color="#1c0000"/>
<stop offset="0.67257" stop-color="#1d0000"/><stop offset="0.67364" stop-color="#1d0000"/>
<stop offset="0.67381" stop-color="#2e0000"/><stop offset="0.67488" stop-color="#2e0000"/>
<stop offset="0.67506" stop-color="#3b0000"/><stop offset="0.67613" stop-color="#3b0000"/>
<stop offset="0.6763" stop-color="#2e0000"/><stop offset="0.67737" stop-color="#2e0000"/>
<stop offset="0.67755" stop-color="#1c0000"/><stop offset="0.67862" stop-color="#1c0000"/>
<stop offset="0.67879" stop-color="#1c0000"/><stop offset="0.67986" stop-color="#1c0000"/>
<stop offset="0.68004" stop-color="#1b0000"/><stop offset="0.68111" stop-color="#1b0000"/>
<stop offset="0.68128" stop-color="#3d0000"/><stop offset="0.68235" stop-color="#3d0000"/>
<stop offset="0.68253" stop-color="#350000"/><stop offset="0.6836" stop-color="#350000"/>
<stop offset="0.68377" stop-color="#2d0000"/><stop offset="0.68484" stop-color="#2d0000"/>
<stop offset="0.68502" stop-color="#2d0000"/><stop offset="0.68609" stop-color="#2d0000"/>
<stop offset="0.68626" stop-color="#2c0000"/><stop offset="0.68733" stop-color="#2c0000"/>
<stop offset="0.68751" stop-color="#2b0000"/><stop offset="0.68858" stop-color="#2b0000"/>
<stop offset="0.68875" stop-color="#2c0000"/><stop offset="0.68983" stop-color="#2c0000"/>
<stop offset="0.69" stop-color="#3f0000"/><stop offset="0.69107" stop-color="#3f0000"/>
<stop offset="0.69125" stop-color="#330000"/><stop offset="0.69232" stop-color="#330000"/>
<stop offset="0.69249" stop-color="#340000"/><stop offset="0.69356" stop-color="#340000"/>
<stop offset="0.69374" stop-color="#330000"/><stop offset="0.69481" stop-color="#330000"/>
<stop offset="0.69498" stop-color="#3b0000"/><stop offset="0.69605" stop-color="#3b0000"/>
<stop offset="0.69623" stop-color="#430000"/><stop offset="0.6973" stop-color="#430000"/>
<stop offset="0.69747" stop-color="#330000"/><stop offset="0.69854" stop-color="#330000"/>
<stop offset="0.69872" stop-color="#240000"/><stop offset="0.69979" stop-color="#240000"/>
<stop offset="0.69996" stop-color="#260000"/><stop offset="0.70103" stop-color="#260000"/>
<stop offset="0.70121" stop-color="#280000"/><stop offset="0.70228" stop-color="#280000"/>
<stop offset="0.70245" stop-color="#350000"/><stop offset="0.70352" stop-color="#350000"/>
<stop offset="0.7037" stop-color="#410000"/><stop offset="0.70477" stop-color="#410000"/>
<stop offset="0.70494" stop-color="#310000"/><stop offset="0.70601" stop-color="#310000"/>
<stop offset="0.70619" stop-color="#1e0000"/><stop offset="0.70726" stop-color="#1e0000"/>
<stop offset="0.70743" stop-color="#2f0000"/><stop offset="0.70851" stop-color="#2f0000"/>
<stop offset="0.70868" stop-color="#3b0000"/><stop offset="0.70975" stop-color="#3b0000"/>
<stop offset="0.70993" stop-color="#300000"/><stop offset="0.711" stop-color="#300000"/>
<stop offset="0.71117" stop-color="#260000"/><stop offset="0.71224" stop-color="#260000"/>
<stop offset="0.71242" stop-color="#190000"/><stop offset="0.71349" stop-color="#190000"/>
<stop offset="0.71366" stop-color="#190000"/><stop offset="0.71473" stop-color="#190000"/>
<stop offset="0.71491" stop-color="#160000"/><stop offset="0.71598" stop-color="#160000"/>
<stop offset="0.71615" stop-color="#4b0000"/><stop offset="0.71722" stop-color="#4b0000"/>
<stop offset="0.7174" stop-color="#340000"/><stop offset="0.71847" stop-color="#340000"/>
<stop offset="0.71864" stop-color="#150000"/><stop offset="0.71971" stop-color="#150000"/>
<stop offset="0.71989" stop-color="#150000"/><stop offset="0.72096" stop-color="#150000"/>
<stop offset="0.72113" stop-color="#130000"/><stop offset="0.7222" stop-color="#130000"/>
<stop offset="0.72238" stop-color="#140000"/><stop offset="0.72345" stop-color="#140000"/>
<stop offset="0.72362" stop-color="#130000"/><stop offset="0.72469" stop-color="#130000"/>
<stop offset="0.72487" stop-color="#310000"/><stop offset="0.72594" stop-color="#310000"/>
<stop offset="0.72611" stop-color="#450000"/><stop offset="0.72719" stop-color="#450000"/>
<stop offset="0.72736" stop-color="#2a0000"/><stop offset="0.72843" stop-color="#2a0000"/>
<stop offset="0.72861" stop-color="#2c0000"/><stop offset="0.72968" stop-color="#2c0000"/>
<stop offset="0.72985" stop-color="#300000"/><stop offset="0.73092" stop-color="#300000"/>
<stop offset="0.7311" stop-color="#300000"/><stop offset="0.73217" stop-color="#300000"/>
<stop offset="0.73234" stop-color="#3b0000"/><stop offset="0.73341" stop-color="#3b0000"/>
<stop offset="0.73359" stop-color="#430000"/><stop offset="0.73466" stop-color="#430000"/>
<stop offset="0.73483" stop-color="#440000"/><stop offset="0.7359" stop-color="#440000"/>
<stop offset="0.73608" stop-color="#2f0000"/><stop offset="0.73715" stop-color="#2f0000"/>
<stop offset="0.73732" stop-color="#310000"/><stop offset="0.73839" stop-color="#310000"/>
<stop offset="0.73857" stop-color="#300000"/><stop offset="0.73964" stop-color="#300000"/>
<stop offset="0.73981" stop-color="#3d0000"/><stop offset="0.74088" stop-color="#3d0000"/>
<stop offset="0.74106" stop-color="#470000"/><stop offset="0.74213" stop-color="#470000"/>
<stop offset="0.7423" stop-color="#510000"/><stop offset="0.74337" stop-color="#510000"/>
<stop offset="0.74355" stop-color="#400000"/><stop offset="0.74462" stop-color="#400000"/>
<stop offset="0.74479" stop-color="#290000"/><stop offset="0.74587" stop-color="#290000"/>
<stop offset="0.74604" stop-color="#290000"/><stop offset="0.74711" stop-color="#290000"/>
<stop offset="0.74729" stop-color="#2b0000"/><stop offset="0.74836" stop-color="#2b0000"/>
<stop offset="0.74853" stop-color="#290000"/><stop offset="0.7496" stop-color="#290000"/>
<stop offset="0.74978" stop-color="#280000"/><stop offset="0.75085" stop-color="#280000"/>
<stop offset="0.75102" stop-color="#290000"/><stop offset="0.75209" stop-color="#290000"/>
<stop offset="0.75227" stop-color="#290000"/><stop offset="0.75334" stop-color="#290000"/>
<stop offset="0.75351" stop-color="#420000"/><stop offset="0.75458" stop-color="#420000"/>
<stop offset="0.75476" stop-color="#540000"/><stop offset="0.75583" stop-color="#540000"/>
<stop offset="0.756" stop-color="#490000"/><stop offset="0.75707" stop-color="#490000"/>
<stop offset="0.75725" stop-color="#3a0000"/><stop offset="0.75832" stop-color="#3a0000"/>
<stop offset="0.75849" stop-color="#290000"/><stop offset="0.75956" stop-color="#290000"/>
<stop offset="0.75974" stop-color="#2a0000"/><stop offset="0.76081" stop-color="#2a0000"/>
<stop offset="0.76098" stop-color="#2a0000"/><stop offset="0.76205" stop-color="#2a0000"/>
<stop offset="0.76223" stop-color="#290000"/><stop offset="0.7633" stop-color="#290000"/>
<stop offset="0.76347" stop-color="#290000"/><stop offset="0.76455" stop-color="#290000"/>
<stop offset="0.76472" stop-color="#2a0000"/><stop offset="0.76579" stop-color="#2a0000"/>
<stop offset="0.76597" stop-color="#290000"/><stop offset="0.76704" stop-color="#290000"/>
<stop offset="0.76721" stop-color="#460000"/><stop offset="0.76828" stop-color="#460000"/>
<stop offset="0.76846" stop-color="#430000"/><stop offset="0.76953" stop-color="#430000"/>
<stop offset="0.7697" stop-color="#310000"/><stop offset="0.77077" stop-color="#310000"/>
<stop offset="0.77095" stop-color="#320000"/><stop offset="0.77202" stop-color="#320000"/>
<stop offset="0.77219" stop-color="#320000"/><stop offset="0.77326" stop-color="#320000"/>
<stop offset="0.77344" stop-color="#320000"/><stop offset="0.77451" stop-color="#320000"/>
<stop offset="0.77468" stop-color="#530000"/><stop offset="0.77575" stop-color="#530000"/>
<stop offset="0.77593" stop-color="#400000"/><stop offset="0.777" stop-color="#400000"/>
<stop offset="0.77717" stop-color="#250000"/><stop offset="0.77824" stop-color="#250000"/>
<stop offset="0.77842" stop-color="#280000"/><stop offset="0.77949" stop-color="#280000"/>
<stop offset="0.77966" stop-color="#280000"/><stop offset="0.78073" stop-color="#280000"/>
<stop offset="0.78091" stop-color="#290000"/><stop offset="0.78198" stop-color="#290000"/>
<stop offset="0.78215" stop-color="#440000"/><stop offset="0.78323" stop-color="#440000"/>
<stop offset="0.7834" stop-color="#590000"/><stop offset="0.78447" stop-color="#590000"/>
<stop offset="0.78465" stop-color="#2f0000"/><stop offset="0.78572" stop-color="#2f0000"/>
<stop offset="0.78589" stop-color="#310000"/><stop offset="0.78696" stop-color="#310000"/>
<stop offset="0.78714" stop-color="#300000"/><stop offset="0.78821" stop-color="#300000"/>
<stop offset="0.78838" stop-color="#300000"/><stop offset="0.78945" stop-color="#300000"/>
<stop offset="0.78963" stop-color="#300000"/><stop offset="0.7907" stop-color="#300000"/>
<stop offset="0.79087" stop-color="#310000"/><stop offset="0.79194" stop-color="#310000"/>
<stop offset="0.79212" stop-color="#300000"/><stop offset="0.79319" stop-color="#300000"/>
<stop offset="0.79336" stop-color="#310000"/><stop offset="0.79443" stop-color="#310000"/>
<stop offset="0.79461" stop-color="#310000"/><stop offset="0.79568" stop-color="#310000"/>
<stop offset="0.79585" stop-color="#310000"/><stop offset="0.79692" stop-color="#310000"/>
<stop offset="0.7971" stop-color="#310000"/><stop offset="0.79817" stop-color="#310000"/>
<stop offset="0.79834" stop-color="#310000"/><stop offset="0.79941" stop-color="#310000"/>
<stop offset="0.79959" stop-color="#310000"/><stop offset="0.80066" stop-color="#310000"/>
<stop offset="0.80083" stop-color="#310000"/><stop offset="0.80191" stop-color="#310000"/>
<stop offset="0.80208" stop-color="#310000"/><stop offset="0.80315" stop-color="#310000"/>
<stop offset="0.80333" stop-color="#310000"/><stop offset="0.8044" stop-color="#310000"/>
<stop offset="0.80457" stop-color="#320000"/><stop offset="0.80564" stop-color="#320000"/>
<stop offset="0.80582" stop-color="#330000"/><stop offset="0.80689" stop-color="#330000"/>
<stop offset="0.80706" stop-color="#330000"/><stop offset="0.80813" stop-color="#330000"/>
<stop offset="0.80831" stop-color="#330000"/><stop offset="0.80938" stop-color="#330000"/>
<stop offset="0.80955" stop-color="#330000"/><stop offset="0.81062" stop-color="#330000"/>
<stop offset="0.8108" stop-color="#340000"/><stop offset="0.81187" stop-color="#340000"/>
<stop offset="0.81204" stop-color="#340000"/><stop offset="0.81311" stop-color="#340000"/>
<stop offset="0.81329" stop-color="#340000"/><stop offset="0.81436" stop-color="#340000"/>
<stop offset="0.81453" stop-color="#340000"/><stop offset="0.8156" stop-color="#340000"/>
<stop offset="0.81578" stop-color="#330000"/><stop offset="0.81685" stop-color="#330000"/>
<stop offset="0.81702" stop-color="#310000"/><stop offset="0.81809" stop-color="#310000"/>
<stop offset="0.81827" stop-color="#310000"/><stop offset="0.81934" stop-color="#310000"/>
<stop offset="0.81951" stop-color="#310000"/><stop offset="0.82059" stop-color="#310000"/>
<stop offset="0.82076" stop-color="#310000"/><stop offset="0.82183" stop-color="#310000"/>
<stop offset="0.822" stop-color="#310000"/><stop offset="0.82308" stop-color="#310000"/>
<stop offset="0.82325" stop-color="#310000"/><stop offset="0.82432" stop-color="#310000"/>
<stop offset="0.8245" stop-color="#310000"/><stop offset="0.82557" stop-color="#310000"/>
<stop offset="0.82574" stop-color="#310000"/><stop offset="0.82681" stop-color="#310000"/>
<stop offset="0.82699" stop-color="#300000"/><stop offset="0.82806" stop-color="#300000"/>
<stop offset="0.82823" stop-color="#300000"/><stop offset="0.8293" stop-color="#300000"/>
<stop offset="0.82948" stop-color="#300000"/><stop offset="0.83055" stop-color="#300000"/>
<stop offset="0.83072" stop-color="#310000"/><stop offset="0.83179" stop-color="#310000"/>
<stop offset="0.83197" stop-color="#300000"/><stop offset="0.83304" stop-color="#300000"/>
<stop offset="0.83321" stop-color="#310000"/><stop offset="0.83428" stop-color="#310000"/>
<stop offset="0.83446" stop-color="#310000"/><stop offset="0.83553" stop-color="#310000"/>
<stop offset="0.8357" stop-color="#320000"/><stop offset="0.83677" stop-color="#320000"/>
<stop offset="0.83695" stop-color="#320000"/><stop offset="0.83802" stop-color="#320000"/>
<stop offset="0.83819" stop-color="#330000"/><stop offset="0.83927" stop-color="#330000"/>
<stop offset="0.83944" stop-color="#330000"/><stop offset="0.84051" stop-color="#330000"/>
<stop offset="0.84068" stop-color="#340000"/><stop offset="0.84176" stop-color="#340000"/>
<stop offset="0.84193" stop-color="#340000"/><stop offset="0.843" stop-color="#340000"/>
<stop offset="0.84318" stop-color="#340000"/><stop offset="0.84425" stop-color="#340000"/>
<stop offset="0.84442" stop-color="#330000"/><stop offset="0.84549" stop-color="#330000"/>
<stop offset="0.84567" stop-color="#2f0000"/><stop offset="0.84674" stop-color="#2f0000"/>
<stop offset="0.84691" stop-color="#2e0000"/><stop offset="0.84798" stop-color="#2e0000"/>
<stop offset="0.84816" stop-color="#2e0000"/><stop offset="0.84923" stop-color="#2e0000"/>
<stop offset="0.8494" stop-color="#2e0000"/><stop offset="0.85047" stop-color="#2e0000"/>
<stop offset="0.85065" stop-color="#2d0000"/><stop offset="0.85172" stop-color="#2d0000"/>
<stop offset="0.85189" stop-color="#2d0000"/><stop offset="0.85296" stop-color="#2d0000"/>
<stop offset="0.85314" stop-color="#2d0000"/><stop offset="0.85421" stop-color="#2d0000"/>
<stop offset="0.85438" stop-color="#2d0000"/><stop offset="0.85545" stop-color="#2d0000"/>
<stop offset="0.85563" stop-color="#2d0000"/><stop offset="0.8567" stop-color="#2d0000"/>
<stop offset="0.85687" stop-color="#2d0000"/><stop offset="0.85795" stop-color="#2d0000"/>
<stop offset="0.85812" stop-color="#2d0000"/><stop offset="0.85919" stop-color="#2d0000"/>
<stop offset="0.85936" stop-color="#2d0000"/><stop offset="0.86044" stop-color="#2d0000"/>
<stop offset="0.86061" stop-color="#2d0000"/><stop offset="0.86168" stop-color="#2d0000"/>
<stop offset="0.86186" stop-color="#2d0000"/><stop offset="0.86293" stop-color="#2d0000"/>
<stop offset="0.8631" stop-color="#2d0000"/><stop offset="0.86417" stop-color="#2d0000"/>
<stop offset="0.86435" stop-color="#2d0000"/><stop offset="0.86542" stop-color="#2d0000"/>
<stop offset="0.86559" stop-color="#2e0000"/><stop offset="0.86666" stop-color="#2e0000"/>
<stop offset="0.86684" stop-color="#2d0000"/><stop offset="0.86791" stop-color="#2d0000"/>
<stop offset="0.86808" stop-color="#2e0000"/><stop offset="0.86915" stop-color="#2e0000"/>
<stop offset="0.86933" stop-color="#2e0000"/><stop offset="0.8704" stop-color="#2e0000"/>
<stop offset="0.87057" stop-color="#2e0000"/><stop offset="0.87164" stop-color="#2e0000"/>
<stop offset="0.87182" stop-color="#2f0000"/><stop offset="0.87289" stop-color="#2f0000"/>
<stop offset="0.87306" stop-color="#2f0000"/><stop offset="0.87413" stop-color="#2f0000"/>
<stop offset="0.87431" stop-color="#2c0000"/><stop offset="0.87538" stop-color="#2c0000"/>
<stop offset="0.87555" stop-color="#2d0000"/><stop offset="0.87663" stop-color="#2d0000"/>
<stop offset="0.8768" stop-color="#2e0000"/><stop offset="0.87787" stop-color="#2e0000"/>
<stop offset="0.87804" stop-color="#2e0000"/><stop offset="0.87912" stop-color="#2e0000"/>
<stop offset="0.87929" stop-color="#2f0000"/><stop offset="0.88036" stop-color="#2f0000"/>
<stop offset="0.88054" stop-color="#2f0000"/><stop offset="0.88161" stop-color="#2f0000"/>
<stop offset="0.88178" stop-color="#2f0000"/><stop offset="0.88285" stop-color="#2f0000"/>
<stop offset="0.88303" stop-color="#2f0000"/><stop offset="0.8841" stop-color="#2f0000"/>
<stop offset="0.88427" stop-color="#2f0000"/><stop offset="0.88534" stop-color="#2f0000"/>
<stop offset="0.88552" stop-color="#2f0000"/><stop offset="0.88659" stop-color="#2f0000"/>
<stop offset="0.88676" stop-color="#2f0000"/><stop offset="0.88783" stop-color="#2f0000"/>
<stop offset="0.88801" stop-color="#2e0000"/><stop offset="0.88908" stop-color="#2e0000"/>
<stop offset="0.88925" stop-color="#2e0000"/><stop offset="0.89032" stop-color="#2e0000"/>
<stop offset="0.8905" stop-color="#2e0000"/><stop offset="0.89157" stop-color="#2e0000"/>
<stop offset="0.89174" stop-color="#2f0000"/><stop offset="0.89281" stop-color="#2f0000"/>
<stop offset="0.89299" stop-color="#2f0000"/><stop offset="0.89406" stop-color="#2f0000"/>
<stop offset="0.89423" stop-color="#2f0000"/><stop offset="0.89531" stop-color="#2f0000"/>
<stop offset="0.89548" stop-color="#2f0000"/><stop offset="0.89655" stop-color="#2f0000"/>
<stop offset="0.89672" stop-color="#300000"/><stop offset="0.8978" stop-color="#300000"/>
<stop offset="0.89797" stop-color="#300000"/><stop offset="0.89904" stop-color="#300000"/>
<stop offset="0.89922" stop-color="#2f0000"/><stop offset="0.90029" stop-color="#2f0000"/>
<stop offset="0.90046" stop-color="#280000"/><stop offset="0.90153" stop-color="#280000"/>
<stop offset="0.90171" stop-color="#290000"/><stop offset="0.90278" stop-color="#290000"/>
<stop offset="0.90295" stop-color="#290000"/><stop offset="0.90402" stop-color="#290000"/>
<stop offset="0.9042" stop-color="#280000"/><stop offset="0.90527" stop-color="#280000"/>
<stop offset="0.90544" stop-color="#280000"/><stop offset="0.90651" stop-color="#280000"/>
<stop offset="0.90669" stop-color="#280000"/><stop offset="0.90776" stop-color="#280000"/>
<stop offset="0.90793" stop-color="#280000"/><stop offset="0.909" stop-color="#280000"/>
<stop offset="0.90918" stop-color="#290000"/><stop offset="0.91025" stop-color="#290000"/>
<stop offset="0.91042" stop-color="#240000"/><stop offset="0.91149" stop-color="#240000"/>
<stop offset="0.91167" stop-color="#220000"/><stop offset="0.91274" stop-color="#220000"/>
<stop offset="0.91291" stop-color="#210000"/><stop offset="0.91399" stop-color="#210000"/>
<stop offset="0.91416" stop-color="#210000"/><stop offset="0.91523" stop-color="#210000"/>
<stop offset="0.9154" stop-color="#220000"/><stop offset="0.91648" stop-color="#220000"/>
<stop offset="0.91665" stop-color="#210000"/><stop offset="0.91772" stop-color="#210000"/>
<stop offset="0.9179" stop-color="#220000"/><stop offset="0.91897" stop-color="#220000"/>
<stop offset="0.91914" stop-color="#220000"/><stop offset="0.92021" stop-color="#220000"/>
<stop offset="0.92039" stop-color="#230000"/><stop offset="0.92146" stop-color="#230000"/>
<stop offset="0.92163" stop-color="#240000"/><stop offset="0.9227" stop-color="#240000"/>
<stop offset="0.92288" stop-color="#280000"/><stop offset="0.92395" stop-color="#280000"/>
<stop offset="0.92412" stop-color="#280000"/><stop offset="0.92519" stop-color="#280000"/>
<stop offset="0.92537" stop-color="#290000"/><stop offset="0.92644" stop-color="#290000"/>
<stop offset="0.92661" stop-color="#2e0000"/><stop offset="0.92768" stop-color="#2e0000"/>
<stop offset="0.92786" stop-color="#2f0000"/><stop offset="0.92893" stop-color="#2f0000"/>
<stop offset="0.9291" stop-color="#300000"/><stop offset="0.93017" stop-color="#300000"/>
<stop offset="0.93035" stop-color="#2e0000"/><stop offset="0.93142" stop-color="#2e0000"/>
<stop offset="0.93159" stop-color="#5b0000"/><stop offset="0.93267" stop-color="#5b0000"/>
<stop offset="0.93284" stop-color="#370000"/><stop offset="0.93391" stop-color="#370000"/>
<stop offset="0.93408" stop-color="#360000"/><stop offset="0.93516" stop-color="#360000"/>
<stop offset="0.93533" stop-color="#340000"/><stop offset="0.9364" stop-color="#340000"/>
<stop offset="0.93658" stop-color="#300000"/><stop offset="0.93765" stop-color="#300000"/>
<stop offset="0.93782" stop-color="#2d0000"/><stop offset="0.93889" stop-color="#2d0000"/>
<stop offset="0.93907" stop-color="#2d0000"/><stop offset="0.94014" stop-color="#2d0000"/>
<stop offset="0.94031" stop-color="#420000"/><stop offset="0.94138" stop-color="#420000"/>
<stop offset="0.94156" stop-color="#540000"/><stop offset="0.94263" stop-color="#540000"/>
<stop offset="0.9428" stop-color="#2a0000"/><stop offset="0.94387" stop-color="#2a0000"/>
<stop offset="0.94405" stop-color="#2b0000"/><stop offset="0.94512" stop-color="#2b0000"/>
<stop offset="0.94529" stop-color="#2c0000"/><stop offset="0.94636" stop-color="#2c0000"/>
<stop offset="0.94654" stop-color="#360000"/><stop offset="0.94761" stop-color="#360000"/>
<stop offset="0.94778" stop-color="#3f0000"/><stop offset="0.94885" stop-color="#3f0000"/>
<stop offset="0.94903" stop-color="#480000"/><stop offset="0.9501" stop-color="#480000"/>
<stop offset="0.95027" stop-color="#480000"/><stop offset="0.95134" stop-color="#480000"/>
<stop offset="0.95152" stop-color="#430000"/><stop offset="0.95259" stop-color="#430000"/>
<stop offset="0.95276" stop-color="#260000"/><stop offset="0.95384" stop-color="#260000"/>
<stop offset="0.95401" stop-color="#2b0000"/><stop offset="0.95508" stop-color="#2b0000"/>
<stop offset="0.95526" stop-color="#320000"/><stop offset="0.95633" stop-color="#320000"/>
<stop offset="0.9565" stop-color="#310000"/><stop offset="0.95757" stop-color="#310000"/>
<stop offset="0.95775" stop-color="#270000"/><stop offset="0.95882" stop-color="#270000"/>
<stop offset="0.95899" stop-color="#580000"/><stop offset="0.96006" stop-color="#580000"/>
<stop offset="0.96024" stop-color="#420000"/><stop offset="0.96131" stop-color="#420000"/>
<stop offset="0.96148" stop-color="#230000"/><stop offset="0.96255" stop-color="#230000"/>
<stop offset="0.96273" stop-color="#220000"/><stop offset="0.9638" stop-color="#220000"/>
<stop offset="0.96397" stop-color="#200000"/><stop offset="0.96504" stop-color="#200000"/>
<stop offset="0.96522" stop-color="#210000"/><stop offset="0.96629" stop-color="#210000"/>
<stop offset="0.96646" stop-color="#3f0000"/><stop offset="0.96753" stop-color="#3f0000"/>
<stop offset="0.96771" stop-color="#540000"/><stop offset="0.96878" stop-color="#540000"/>
<stop offset="0.96895" stop-color="#200000"/><stop offset="0.97002" stop-color="#200000"/>
<stop offset="0.9702" stop-color="#1f0000"/><stop offset="0.97127" stop-color="#1f0000"/>
<stop offset="0.97144" stop-color="#1e0000"/><stop offset="0.97252" stop-color="#1e0000"/>
<stop offset="0.97269" stop-color="#200000"/><stop offset="0.97376" stop-color="#200000"/>
<stop offset="0.97394" stop-color="#1e0000"/><stop offset="0.97501" stop-color="#1e0000"/>
<stop offset="0.97518" stop-color="#2a0000"/><stop offset="0.97625" stop-color="#2a0000"/>
<stop offset="0.97643" stop-color="#340000"/><stop offset="0.9775" stop-color="#340000"/>
<stop offset="0.97767" stop-color="#3e0000"/><stop offset="0.97874" stop-color="#3e0000"/>
<stop offset="0.97892" stop-color="#1b0000"/><stop offset="0.97999" stop-color="#1b0000"/>
<stop offset="0.98016" stop-color="#1f0000"/><stop offset="0.98123" stop-color="#1f0000"/>
<stop offset="0.98141" stop-color="#220000"/><stop offset="0.98248" stop-color="#220000"/>
<stop offset="0.98265" stop-color="#1a0000"/><stop offset="0.98372" stop-color="#1a0000"/>
<stop offset="0.9839" stop-color="#3d0000"/><stop offset="0.98497" stop-color="#3d0000"/>
<stop offset="0.98514" stop-color="#2b0000"/><stop offset="0.98621" stop-color="#2b0000"/>
<stop offset="0.98639" stop-color="#2f0000"/><stop offset="0.98746" stop-color="#2f0000"/>
<stop offset="0.98763" stop-color="#2d0000"/><stop offset="0.9887" stop-color="#2d0000"/>
<stop offset="0.98888" stop-color="#240000"/><stop offset="0.98995" stop-color="#240000"/>
<stop offset="0.99012" stop-color="#1a0000"/><stop offset="0.9912" stop-color="#1a0000"/>
<stop offset="0.99137" stop-color="#560000"/><stop offset="0.99244" stop-color="#560000"/>
<stop offset="0.99262" stop-color="#270000"/><stop offset="0.99369" stop-color="#270000"/>
<stop offset="0.99386" stop-color="#2d0000"/><stop offset="0.99493" stop-color="#2d0000"/>
<stop offset="0.99511" stop-color="#260000"/><stop offset="0.99618" stop-color="#260000"/>
<stop offset="0.99635" stop-color="#280000"/><stop offset="0.99742" stop-color="#280000"/>
<stop offset="0.9976" stop-color="#470000"/><stop offset="0.99867" stop-color="#470000"/>
<stop offset="0.99884" stop-color="#250000"/><stop offset="0.99991" stop-color="#250000"/>
</linearGradient>
<filter id="L6" filterUnits="userSpaceOnUse" x="93.5" y="30.5" width="1020" height="531" color-interpolation-filters="sRGB">
<feComponentTransfer><feFuncR type="table" tableValues="0.202 0.218 0.236 0.254 0.274 0.294 0.315 0.337 0.36 0.383 0.407 0.432 0.458 0.484 0.511 0.538 0.566 0.595 0.623 0.653 0.682 0.712 0.742 0.773 0.804 0.835 0.866 0.897 0.929 0.961 0.993 1 1 1 1 1 1 1 1 1 1"/></feComponentTransfer>
<feColorMatrix type="matrix" values="0 0 0 0 0 1 0 0 0 0 0 0 0 0 0 0 0 0 1 0"/>
</filter>
<filter id="L24" filterUnits="userSpaceOnUse" x="93.5" y="30.5" width="1020" height="531" color-interpolation-filters="sRGB">
<feComponentTransfer><feFuncR type="table" tableValues="0.175 0.19 0.206 0.223 0.241 0.259 0.279 0.299 0.321 0.343 0.366 0.389 0.414 0.439 0.465 0.491 0.518 0.546 0.574 0.602 0.631 0.66 0.69 0.72 0.75 0.781 0.812 0.843 0.874 0.906 0.937 0.969 1 1 1 1 1 1 1 1 1"/></feComponentTransfer>
<feColorMatrix type="matrix" values="0 0 0 0 0 1 0 0 0 0 0 0 0 0 0 0 0 0 1 0"/>
</filter>
<filter id="L41" filterUnits="userSpaceOnUse" x="93.5" y="30.5" width="1020" height="531" color-interpolation-filters="sRGB">
<feComponentTransfer><feFuncR type="table" tableValues="0.175 0.19 0.206 0.223 0.241 0.259 0.279 0.299 0.321 0.343 0.366 0.389 0.414 0.439 0.465 0.491 0.518 0.546 0.574 0.602 0.631 0.66 0.69 0.72 0.75 0.781 0.812 0.843 0.874 0.906 0.937 0.969 1 1 1 1 1 1 1 1 1"/></feComponentTransfer>
<feColorMatrix type="matrix" values="0 0 0 0 0 1 0 0 0 0 0 0 0 0 0 0 0 0 1 0"/>
</filter>
<filter id="L59" filterUnits="userSpaceOnUse" x="93.5" y="30.5" width="1020" height="531" color-interpolation-filters="sRGB">
<feComponentTransfer><feFuncR type="table" tableValues="0.142 0.155 0.169 0.183 0.199 0.215 0.233 0.251 0.27 0.29 0.311 0.333 0.355 0.379 0.403 0.428 0.453 0.479 0.506 0.533 0.561 0.589 0.618 0.647 0.677 0.707 0.737 0.767 0.798 0.829 0.86 0.892 0.923 0.955 0.987 1 1 1 1 1 1"/></feComponentTransfer>
<feColorMatrix type="matrix" values="0 0 0 0 0 1 0 0 0 0 0 0 0 0 0 0 0 0 1 0"/>
</filter>
<filter id="L76" filterUnits="userSpaceOnUse" x="93.5" y="30.5" width="1020" height="531" color-interpolation-filters="sRGB">
<feComponentTransfer><feFuncR type="table" tableValues="0.14 0.153 0.166 0.181 0.196 0.212 0.23 0.248 0.267 0.287 0.308 0.329 0.352 0.375 0.399 0.424 0.449 0.475 0.502 0.529 0.556 0.585 0.613 0.642 0.672 0.702 0.732 0.762 0.793 0.824 0.855 0.886 0.918 0.95 0.982 1 1 1 1 1 1"/></feComponentTransfer>
<feColorMatrix type="matrix" values="0 0 0 0 0 1 0 0 0 0 0 0 0 0 0 0 0 0 1 0"/>
</filter>
<filter id="L94" filterUnits="userSpaceOnUse" x="93.5" y="30.5" width="1020" height="531" color-interpolation-filters="sRGB">
<feComponentTransfer><feFuncR type="table" tableValues="0.201 0.218 0.235 0.253 0.273 0.293 0.314 0.336 0.359 0.382 0.406 0.431 0.457 0.483 0.51 0.537 0.565 0.593 0.622 0.651 0.681 0.711 0.741 0.771 0.802 0.833 0.865 0.896 0.928 0.959 0.991 1 1 1 1 1 1 1 1 1 1"/></feComponentTransfer>
<feColorMatrix type="matrix" values="0 0 0 0 0 1 0 0 0 0 0 0 0 0 0 0 0 0 1 0"/>
</filter>
<filter id="L111" filterUnits="userSpaceOnUse" x="93.5" y="30.5" width="1020" height="531" color-interpolation-filters="sRGB">
<feComponentTransfer><feFuncR type="table" tableValues="0.384 0.408 0.433 0.458 0.485 0.511 0.539 0.567 0.595 0.624 0.653 0.683 0.713 0.743 0.773 0.804 0.835 0.866 0.898 0.93 0.961 0.993 1 1 1 1 1 1 1 1 1 1 1 1 1 1 1 1 1 1 1"/></feComponentTransfer>
<feColorMatrix type="matrix" values="0 0 0 0 0 1 0 0 0 0 0 0 0 0 0 0 0 0 1 0"/>
</filter>
<filter id="L129" filterUnits="userSpaceOnUse" x="93.5" y="30.5" width="1020" height="531" color-interpolation-filters="sRGB">
<feComponentTransfer><feFuncR type="table" tableValues="0.184 0.2 0.216 0.234 0.252 0.271 0.291 0.312 0.334 0.357 0.38 0.404 0.429 0.455 0.481 0.508 0.535 0.563 0.591 0.62 0.649 0.678 0.708 0.738 0.769 0.8 0.831 0.862 0.893 0.925 0.957 0.989 1 1 1 1 1 1 1 1 1"/></feComponentTransfer>
<feColorMatrix type="matrix" values="0 0 0 0 0 1 0 0 0 0 0 0 0 0 0 0 0 0 1 0"/>
</filter>
<filter id="L146" filterUnits="userSpaceOnUse" x="93.5" y="30.5" width="1020" height="531" color-interpolation-filters="sRGB">
<feComponentTransfer><feFuncR type="table" tableValues="0.05 0.056 0.061 0.068 0.075 0.082 0.091 0.1 0.109 0.12 0.131 0.143 0.156 0.17 0.185 0.2 0.217 0.234 0.253 0.272 0.292 0.313 0.335 0.358 0.381 0.405 0.43 0.456 0.482 0.509 0.536 0.564 0.592 0.621 0.65 0.68 0.71 0.74 0.77 0.801 0.832"/></feComponentTransfer>
<feColorMatrix type="matrix" values="0 0 0 0 0 1 0 0 0 0 0 0 0 0 0 0 0 0 1 0"/>
</filter>
<filter id="L163" filterUnits="userSpaceOnUse" x="93.5" y="30.5" width="1020" height="531" color-interpolation-filters="sRGB">
<feComponentTransfer><feFuncR type="table" tableValues="0.046 0.051 0.056 0.062 0.069 0.076 0.083 0.092 0.101 0.111 0.121 0.133 0.145 0.158 0.172 0.187 0.203 0.219 0.237 0.255 0.275 0.295 0.316 0.338 0.361 0.384 0.409 0.434 0.459 0.485 0.512 0.54 0.568 0.596 0.625 0.654 0.684 0.714 0.744 0.774 0.805"/></feComponentTransfer>
<feColorMatrix type="matrix" values="0 0 0 0 0 1 0 0 0 0 0 0 0 0 0 0 0 0 1 0"/>
</filter>
<filter id="L164" filterUnits="userSpaceOnUse" x="93.5" y="30.5" width="1020" height="531" color-interpolation-filters="sRGB">
<feComponentTransfer><feFuncR type="table" tableValues="0.01 0.011 0.012 0.014 0.015 0.017 0.019 0.021 0.023 0.026 0.028 0.032 0.035 0.039 0.043 0.048 0.053 0.058 0.064 0.071 0.078 0.086 0.095 0.104 0.114 0.125 0.137 0.149 0.163 0.177 0.192 0.208 0.225 0.243 0.262 0.282 0.302 0.324 0.346 0.369 0.393"/></feComponentTransfer>
<feColorMatrix type="matrix" values="0 0 0 0 0 1 0 0 0 0 0 0 0 0 0 0 0 0 1 0"/>
</filter>
<filter id="L181" filterUnits="userSpaceOnUse" x="93.5" y="30.5" width="1020" height="531" color-interpolation-filters="sRGB">
<feComponentTransfer><feFuncR type="table" tableValues="0.202 0.219 0.237 0.255 0.274 0.295 0.316 0.338 0.361 0.384 0.408 0.433 0.459 0.485 0.512 0.539 0.567 0.596 0.625 0.654 0.683 0.713 0.744 0.774 0.805 0.836 0.867 0.899 0.93 0.962 0.994 1 1 1 1 1 1 1 1 1 1"/></feComponentTransfer>
<feColorMatrix type="matrix" values="0 0 0 0 0 1 0 0 0 0 0 0 0 0 0 0 0 0 1 0"/>
</filter>
<filter id="L198" filterUnits="userSpaceOnUse" x="93.5" y="30.5" width="1020" height="531" color-interpolation-filters="sRGB">
<feComponentTransfer><feFuncR type="table" tableValues="0.018 0.02 0.022 0.024 0.027 0.03 0.033 0.037 0.041 0.045 0.05 0.056 0.061 0.068 0.075 0.082 0.091 0.1 0.109 0.12 0.131 0.143 0.156 0.17 0.185 0.2 0.217 0.234 0.253 0.272 0.292 0.313 0.335 0.358 0.381 0.405 0.43 0.456 0.482 0.509 0.536"/></feComponentTransfer>
<feColorMatrix type="matrix" values="0 0 0 0 0 1 0 0 0 0 0 0 0 0 0 0 0 0 1 0"/>
</filter>
<filter id="L6h" filterUnits="userSpaceOnUse" x="93.5" y="30.5" width="1020" height="531" color-interpolation-filters="sRGB">
<feComponentTransfer><feFuncR type="table" tableValues="0.117 0.128 0.14 0.153 0.167 0.181 0.197 0.213 0.23 0.249 0.268 0.288 0.308 0.33 0.353 0.376 0.4 0.425 0.45 0.476 0.503 0.53 0.558 0.586 0.614 0.644 0.673 0.703 0.733 0.763 0.794 0.825 0.856 0.888 0.919 0.951 0.983 1 1 1 1"/></feComponentTransfer>
<feColorMatrix type="matrix" values="0 0 0 0 0 1 0 0 0 0 0 0 0 0 0 0 0 0 1 0"/>
</filter>
<radialGradient id="b1" gradientUnits="userSpaceOnUse" cx="0" cy="0" r="1" gradientTransform="translate(185 325) rotate(0) scale(52 18)">
<stop offset="0" stop-color="#000033"/><stop offset="0.45" stop-color="#000033" stop-opacity="0.42"/><stop offset="1" stop-color="#000033" stop-opacity="0"/>
</radialGradient>
<radialGradient id="b2" gradientUnits="userSpaceOnUse" cx="0" cy="0" r="1" gradientTransform="translate(183 293) rotate(0) scale(19 50)">
<stop offset="0" stop-color="#00001a"/><stop offset="0.45" stop-color="#00001a" stop-opacity="0.42"/><stop offset="1" stop-color="#00001a" stop-opacity="0"/>
</radialGradient>
<radialGradient id="b3" gradientUnits="userSpaceOnUse" cx="0" cy="0" r="1" gradientTransform="translate(222 331) rotate(3) scale(85 10)">
<stop offset="0" stop-color="#000014"/><stop offset="0.45" stop-color="#000014" stop-opacity="0.42"/><stop offset="1" stop-color="#000014" stop-opacity="0"/>
</radialGradient>
<radialGradient id="b4" gradientUnits="userSpaceOnUse" cx="0" cy="0" r="1" gradientTransform="translate(375 343) rotate(4.6) scale(170 9)">
<stop offset="0" stop-color="#00000b"/><stop offset="0.45" stop-color="#00000b" stop-opacity="0.42"/><stop offset="1" stop-color="#00000b" stop-opacity="0"/>
</radialGradient>
<radialGradient id="b5" gradientUnits="userSpaceOnUse" cx="0" cy="0" r="1" gradientTransform="translate(519 353) rotate(0) scale(36 17)">
<stop offset="0" stop-color="#00002b"/><stop offset="0.45" stop-color="#00002b" stop-opacity="0.42"/><stop offset="1" stop-color="#00002b" stop-opacity="0"/>
</radialGradient>
<radialGradient id="b6" gradientUnits="userSpaceOnUse" cx="0" cy="0" r="1" gradientTransform="translate(503 336) rotate(-35) scale(13 32)">
<stop offset="0" stop-color="#00001f"/><stop offset="0.45" stop-color="#00001f" stop-opacity="0.42"/><stop offset="1" stop-color="#00001f" stop-opacity="0"/>
</radialGradient>
<radialGradient id="b7" gradientUnits="userSpaceOnUse" cx="0" cy="0" r="1" gradientTransform="translate(1063 324) rotate(0) scale(50 22)">
<stop offset="0" stop-color="#000033"/><stop offset="0.45" stop-color="#000033" stop-opacity="0.42"/><stop offset="1" stop-color="#000033" stop-opacity="0"/>
</radialGradient>
<radialGradient id="b8" gradientUnits="userSpaceOnUse" cx="0" cy="0" r="1" gradientTransform="translate(1062 288) rotate(0) scale(17 48)">
<stop offset="0" stop-color="#00001a"/><stop offset="0.45" stop-color="#00001a" stop-opacity="0.42"/><stop offset="1" stop-color="#00001a" stop-opacity="0"/>
</radialGradient>
<linearGradient id="cb" x1="0" y1="1" x2="0" y2="0">
<stop offset="0" stop-color="#440154"/>
<stop offset="0.0312" stop-color="#470d60"/>
<stop offset="0.0625" stop-color="#48186a"/>
<stop offset="0.0938" stop-color="#482374"/>
<stop offset="0.125" stop-color="#472d7b"/>
<stop offset="0.1562" stop-color="#453781"/>
<stop offset="0.1875" stop-color="#424086"/>
<stop offset="0.2188" stop-color="#3e4989"/>
<stop offset="0.25" stop-color="#3b528b"/>
<stop offset="0.2812" stop-color="#375b8d"/>
<stop offset="0.3125" stop-color="#33638d"/>
<stop offset="0.3438" stop-color="#2f6b8e"/>
<stop offset="0.375" stop-color="#2c728e"/>
<stop offset="0.4062" stop-color="#297a8e"/>
<stop offset="0.4375" stop-color="#26828e"/>
<stop offset="0.4688" stop-color="#23898e"/>
<stop offset="0.5" stop-color="#21918c"/>
<stop offset="0.5312" stop-color="#1f988b"/>
<stop offset="0.5625" stop-color="#1fa088"/>
<stop offset="0.5938" stop-color="#22a785"/>
<stop offset="0.625" stop-color="#28ae80"/>
<stop offset="0.6562" stop-color="#32b67a"/>
<stop offset="0.6875" stop-color="#3fbc73"/>
<stop offset="0.7188" stop-color="#4ec36b"/>
<stop offset="0.75" stop-color="#5ec962"/>
<stop offset="0.7812" stop-color="#70cf57"/>
<stop offset="0.8125" stop-color="#84d44b"/>
<stop offset="0.8438" stop-color="#98d83e"/>
<stop offset="0.875" stop-color="#addc30"/>
<stop offset="0.9062" stop-color="#c2df23"/>
<stop offset="0.9375" stop-color="#d8e219"/>
<stop offset="0.9688" stop-color="#ece51b"/>
<stop offset="1" stop-color="#fde725"/>
</linearGradient>
</defs>
<g filter="url(#vir)">
<rect x="93.5" y="30.5" width="1020" height="531" fill="#280000"/>
<rect x="93.5" y="30.5" width="1020" height="531" fill="url(#gc)"/>
<rect x="93.5" y="497.33" width="1020" height="2.6" fill="url(#gc)" filter="url(#L24)" style="mix-blend-mode:screen"/>
<rect x="93.5" y="454.05" width="1020" height="2.6" fill="url(#gc)" filter="url(#L41)" style="mix-blend-mode:screen"/>
<rect x="93.5" y="408.23" width="1020" height="2.6" fill="url(#gc)" filter="url(#L59)" style="mix-blend-mode:screen"/>
<rect x="93.5" y="364.95" width="1020" height="2.6" fill="url(#gc)" filter="url(#L76)" style="mix-blend-mode:screen"/>
<rect x="93.5" y="319.13" width="1020" height="2.6" fill="url(#gc)" filter="url(#L94)" style="mix-blend-mode:screen"/>
<rect x="93.5" y="275.85" width="1020" height="2.6" fill="url(#gc)" filter="url(#L111)" style="mix-blend-mode:screen"/>
<rect x="93.5" y="230.03" width="1020" height="2.6" fill="url(#gc)" filter="url(#L129)" style="mix-blend-mode:screen"/>
<rect x="93.5" y="186.75" width="1020" height="2.6" fill="url(#gc)" filter="url(#L146)" style="mix-blend-mode:screen"/>
<rect x="93.5" y="143.48" width="1020" height="2.6" fill="url(#gc)" filter="url(#L163)" style="mix-blend-mode:screen"/>
<rect x="93.5" y="140.93" width="1020" height="2.6" fill="url(#gc)" filter="url(#L164)" style="mix-blend-mode:screen"/>
<rect x="93.5" y="97.66" width="1020" height="2.6" fill="url(#gc)" filter="url(#L181)" style="mix-blend-mode:screen"/>
<rect x="93.5" y="54.38" width="1020" height="2.6" fill="url(#gc)" filter="url(#L198)" style="mix-blend-mode:screen"/>
<g filter="url(#L6)" style="mix-blend-mode:screen" fill="url(#gc)">
<rect x="93.5" y="543.15" width="2.5" height="2.6"/>
<rect x="97.7" y="543.15" width="4.4" height="2.6"/>
<rect x="103.8" y="543.15" width="4.3" height="2.6"/>
<rect x="109.8" y="543.15" width="4.6" height="2.6"/>
<rect x="116.1" y="543.15" width="4.8" height="2.6"/>
<rect x="122.6" y="543.15" width="4.6" height="2.6"/>
<rect x="128.9" y="543.15" width="4.6" height="2.6"/>
<rect x="135.2" y="543.15" width="4.3" height="2.6"/>
<rect x="141.2" y="543.15" width="4.6" height="2.6"/>
<rect x="147.5" y="543.15" width="5" height="2.6"/>
<rect x="154.2" y="543.15" width="4.9" height="2.6"/>
<rect x="160.9" y="543.15" width="4.8" height="2.6"/>
<rect x="167.4" y="543.15" width="4.3" height="2.6"/>
<rect x="173.4" y="543.15" width="5" height="2.6"/>
<rect x="180.1" y="543.15" width="4.9" height="2.6"/>
<rect x="186.7" y="543.15" width="4.4" height="2.6"/>
<rect x="192.8" y="543.15" width="4.8" height="2.6"/>
<rect x="199.3" y="543.15" width="4.3" height="2.6"/>
<rect x="205.2" y="543.15" width="4.3" height="2.6"/>
<rect x="211.3" y="543.15" width="4.5" height="2.6"/>
<rect x="217.5" y="543.15" width="4.4" height="2.6"/>
<rect x="223.6" y="543.15" width="4.9" height="2.6"/>
<rect x="230.1" y="543.15" width="4.9" height="2.6"/>
<rect x="236.7" y="543.15" width="4.5" height="2.6"/>
<rect x="243" y="543.15" width="4.5" height="2.6"/>
<rect x="249.2" y="543.15" width="4.3" height="2.6"/>
<rect x="255.2" y="543.15" width="4.3" height="2.6"/>
<rect x="261.2" y="543.15" width="4.8" height="2.6"/>
<rect x="267.7" y="543.15" width="4.7" height="2.6"/>
<rect x="274.2" y="543.15" width="4.3" height="2.6"/>
<rect x="280.2" y="543.15" width="4.6" height="2.6"/>
<rect x="286.5" y="543.15" width="4.6" height="2.6"/>
<rect x="292.8" y="543.15" width="4.9" height="2.6"/>
<rect x="299.4" y="543.15" width="4.8" height="2.6"/>
<rect x="305.9" y="543.15" width="4.7" height="2.6"/>
<rect x="312.4" y="543.15" width="4.7" height="2.6"/>
<rect x="318.7" y="543.15" width="5" height="2.6"/>
<rect x="325.5" y="543.15" width="5" height="2.6"/>
<rect x="332.2" y="543.15" width="4.5" height="2.6"/>
<rect x="338.4" y="543.15" width="4.4" height="2.6"/>
<rect x="344.6" y="543.15" width="4.9" height="2.6"/>
<rect x="351.1" y="543.15" width="4.3" height="2.6"/>
<rect x="357.1" y="543.15" width="133.9" height="2.6"/>
<rect x="493.5" y="543.15" width="69.5" height="2.6"/>
<rect x="565.2" y="543.15" width="10.5" height="2.6"/>
<rect x="577.4" y="543.15" width="11" height="2.6"/>
<rect x="590.6" y="543.15" width="6.7" height="2.6"/>
<rect x="598.6" y="543.15" width="8.9" height="2.6"/>
<rect x="609.7" y="543.15" width="5.4" height="2.6"/>
<rect x="616.4" y="543.15" width="6.3" height="2.6"/>
<rect x="624" y="543.15" width="6.3" height="2.6"/>
<rect x="632" y="543.15" width="7.2" height="2.6"/>
<rect x="640.9" y="543.15" width="5.9" height="2.6"/>
<rect x="649" y="543.15" width="5.4" height="2.6"/>
<rect x="655.7" y="543.15" width="6.3" height="2.6"/>
<rect x="664.2" y="543.15" width="8" height="2.6"/>
<rect x="673.9" y="543.15" width="5.9" height="2.6"/>
<rect x="682" y="543.15" width="10.5" height="2.6"/>
<rect x="694.7" y="543.15" width="10.5" height="2.6"/>
<rect x="707.4" y="543.15" width="10.5" height="2.6"/>
<rect x="719.2" y="543.15" width="8.9" height="2.6"/>
<rect x="729.4" y="543.15" width="6.3" height="2.6"/>
<rect x="737" y="543.15" width="7.6" height="2.6"/>
<rect x="746.3" y="543.15" width="7.2" height="2.6"/>
<rect x="754.8" y="543.15" width="8.9" height="2.6"/>
<rect x="765.4" y="543.15" width="8.5" height="2.6"/>
<rect x="775.2" y="543.15" width="8.9" height="2.6"/>
<rect x="785.8" y="543.15" width="11" height="2.6"/>
<rect x="798.5" y="543.15" width="8.5" height="2.6"/>
<rect x="808.3" y="543.15" width="8.9" height="2.6"/>
<rect x="819.4" y="543.15" width="10.5" height="2.6"/>
<rect x="831.6" y="543.15" width="11" height="2.6"/>
<rect x="844.3" y="543.15" width="8.5" height="2.6"/>
<rect x="854.1" y="543.15" width="6.3" height="2.6"/>
<rect x="862.1" y="543.15" width="8.5" height="2.6"/>
<rect x="872.3" y="543.15" width="11" height="2.6"/>
<rect x="884.6" y="543.15" width="6.3" height="2.6"/>
<rect x="892.6" y="543.15" width="8.9" height="2.6"/>
<rect x="1042" y="543.15" width="9" height="2.6"/>
<rect x="1053" y="543.15" width="7.5" height="2.6"/>
<rect x="1062.5" y="543.15" width="7" height="2.6"/>
<rect x="1071.5" y="543.15" width="15.5" height="2.6"/>
<rect x="1089" y="543.15" width="24.5" height="2.6"/>
<rect x="96" y="540.61" width="1.7" height="2.6"/>
<rect x="102.1" y="540.61" width="1.7" height="2.6"/>
<rect x="108.1" y="540.61" width="1.7" height="2.6"/>
<rect x="114.4" y="540.61" width="1.7" height="2.6"/>
<rect x="120.9" y="540.61" width="1.7" height="2.6"/>
<rect x="127.2" y="540.61" width="1.7" height="2.6"/>
<rect x="133.5" y="540.61" width="1.7" height="2.6"/>
<rect x="139.5" y="540.61" width="1.7" height="2.6"/>
<rect x="145.8" y="540.61" width="1.7" height="2.6"/>
<rect x="152.5" y="540.61" width="1.7" height="2.6"/>
<rect x="159.2" y="540.61" width="1.7" height="2.6"/>
<rect x="165.7" y="540.61" width="1.7" height="2.6"/>
<rect x="171.7" y="540.61" width="1.7" height="2.6"/>
<rect x="178.4" y="540.61" width="1.7" height="2.6"/>
<rect x="185" y="540.61" width="1.7" height="2.6"/>
<rect x="191.1" y="540.61" width="1.7" height="2.6"/>
<rect x="197.6" y="540.61" width="1.7" height="2.6"/>
<rect x="203.5" y="540.61" width="1.7" height="2.6"/>
<rect x="209.6" y="540.61" width="1.7" height="2.6"/>
<rect x="215.8" y="540.61" width="1.7" height="2.6"/>
<rect x="221.9" y="540.61" width="1.7" height="2.6"/>
<rect x="228.4" y="540.61" width="1.7" height="2.6"/>
<rect x="235" y="540.61" width="1.7" height="2.6"/>
<rect x="241.3" y="540.61" width="1.7" height="2.6"/>
<rect x="247.5" y="540.61" width="1.7" height="2.6"/>
<rect x="253.5" y="540.61" width="1.7" height="2.6"/>
<rect x="259.5" y="540.61" width="1.7" height="2.6"/>
<rect x="266" y="540.61" width="1.7" height="2.6"/>
<rect x="272.5" y="540.61" width="1.7" height="2.6"/>
<rect x="278.5" y="540.61" width="1.7" height="2.6"/>
<rect x="284.8" y="540.61" width="1.7" height="2.6"/>
<rect x="291.1" y="540.61" width="1.7" height="2.6"/>
<rect x="297.7" y="540.61" width="1.7" height="2.6"/>
<rect x="304.2" y="540.61" width="1.7" height="2.6"/>
<rect x="310.7" y="540.61" width="1.7" height="2.6"/>
<rect x="317" y="540.61" width="1.7" height="2.6"/>
<rect x="323.8" y="540.61" width="1.7" height="2.6"/>
<rect x="330.5" y="540.61" width="1.7" height="2.6"/>
<rect x="336.7" y="540.61" width="1.7" height="2.6"/>
<rect x="342.9" y="540.61" width="1.7" height="2.6"/>
<rect x="349.4" y="540.61" width="1.7" height="2.6"/>
<rect x="355.4" y="540.61" width="1.7" height="2.6"/>
<rect x="491" y="540.61" width="2.5" height="2.6"/>
<rect x="563" y="540.61" width="2.2" height="2.6"/>
<rect x="575.7" y="540.61" width="1.7" height="2.6"/>
<rect x="588.4" y="540.61" width="2.2" height="2.6"/>
<rect x="597.3" y="540.61" width="1.3" height="2.6"/>
<rect x="607.5" y="540.61" width="2.2" height="2.6"/>
<rect x="615.1" y="540.61" width="1.3" height="2.6"/>
<rect x="622.7" y="540.61" width="1.3" height="2.6"/>
<rect x="630.3" y="540.61" width="1.7" height="2.6"/>
<rect x="639.2" y="540.61" width="1.7" height="2.6"/>
<rect x="646.8" y="540.61" width="2.2" height="2.6"/>
<rect x="654.4" y="540.61" width="1.3" height="2.6"/>
<rect x="662" y="540.61" width="2.2" height="2.6"/>
<rect x="672.2" y="540.61" width="1.7" height="2.6"/>
<rect x="679.8" y="540.61" width="2.2" height="2.6"/>
<rect x="692.5" y="540.61" width="2.2" height="2.6"/>
<rect x="705.2" y="540.61" width="2.2" height="2.6"/>
<rect x="717.9" y="540.61" width="1.3" height="2.6"/>
<rect x="728.1" y="540.61" width="1.3" height="2.6"/>
<rect x="735.7" y="540.61" width="1.3" height="2.6"/>
<rect x="744.6" y="540.61" width="1.7" height="2.6"/>
<rect x="753.5" y="540.61" width="1.3" height="2.6"/>
<rect x="763.7" y="540.61" width="1.7" height="2.6"/>
<rect x="773.9" y="540.61" width="1.3" height="2.6"/>
<rect x="784.1" y="540.61" width="1.7" height="2.6"/>
<rect x="796.8" y="540.61" width="1.7" height="2.6"/>
<rect x="807" y="540.61" width="1.3" height="2.6"/>
<rect x="817.2" y="540.61" width="2.2" height="2.6"/>
<rect x="829.9" y="540.61" width="1.7" height="2.6"/>
<rect x="842.6" y="540.61" width="1.7" height="2.6"/>
<rect x="852.8" y="540.61" width="1.3" height="2.6"/>
<rect x="860.4" y="540.61" width="1.7" height="2.6"/>
<rect x="870.6" y="540.61" width="1.7" height="2.6"/>
<rect x="883.3" y="540.61" width="1.3" height="2.6"/>
<rect x="890.9" y="540.61" width="1.7" height="2.6"/>
<rect x="1051" y="540.61" width="2" height="2.6"/>
<rect x="1060.5" y="540.61" width="2" height="2.6"/>
<rect x="1069.5" y="540.61" width="2" height="2.6"/>
<rect x="1087" y="540.61" width="2" height="2.6"/>
</g>
<rect x="901.5" y="540.61" width="140.5" height="5.15" fill="url(#gc)" filter="url(#L6h)" style="mix-blend-mode:screen"/>
<rect x="131" y="271" width="108" height="108" fill="url(#b1)" style="mix-blend-mode:screen"/>
<rect x="131" y="241" width="104" height="104" fill="url(#b2)" style="mix-blend-mode:screen"/>
<rect x="135" y="244" width="174" height="174" fill="url(#b3)" style="mix-blend-mode:screen"/>
<rect x="203" y="171" width="344" height="344" fill="url(#b4)" style="mix-blend-mode:screen"/>
<rect x="481" y="315" width="76" height="76" fill="url(#b5)" style="mix-blend-mode:screen"/>
<rect x="469" y="302" width="68" height="68" fill="url(#b6)" style="mix-blend-mode:screen"/>
<rect x="1011" y="272" width="102.5" height="104" fill="url(#b7)" style="mix-blend-mode:screen"/>
<rect x="1012" y="238" width="100" height="100" fill="url(#b8)" style="mix-blend-mode:screen"/>
</g>
<rect x="93.5" y="30.5" width="1020" height="531" fill="none" stroke="#000" stroke-width="1.11"/>
<path d="M172.5 562v4.86M311.5 562v4.86M450.5 562v4.86M589.5 562v4.86M729.5 562v4.86M868.5 562v4.86M1007.5 562v4.86" stroke="#000" stroke-width="1.11" fill="none"/>
<path d="M93 106.5h-4.86M93 182.5h-4.86M93 258.5h-4.86M93 334.5h-4.86M93 410.5h-4.86M93 486.5h-4.86" stroke="#000" stroke-width="1.11" fill="none"/>
<rect x="1177.5" y="30.5" width="26" height="531" fill="url(#cb)"/>
<rect x="1177.5" y="30.5" width="26" height="531" fill="none" stroke="#000" stroke-width="1.11"/>
<path d="M1203.5 513.5h3.3M1203.5 467.5h3.3M1203.5 431.5h3.3M1203.5 402.5h3.3M1203.5 377.5h3.3M1203.5 355.5h3.3M1203.5 336.5h3.3M1203.5 208.5h3.3M1203.5 143.5h3.3M1203.5 97.5h3.3M1203.5 61.5h3.3M1203.5 32.5h3.3" stroke="#000" stroke-width="0.9" fill="none"/>
<path d="M1203.5 320.5h5.4" stroke="#000" stroke-width="1.11" fill="none"/>
<rect x="1401.5" y="30.5" width="1275" height="531" fill="none" stroke="#000" stroke-width="1.11"/>
<path d="M1457.5 562v4.86M1623.5 562v4.86M1789.5 562v4.86M1955.5 562v4.86M2121.5 562v4.86M2287.5 562v4.86M2453.5 562v4.86M2619.5 562v4.86" stroke="#000" stroke-width="1.11" fill="none"/>
<path d="M1401 83.5h-4.86M1401 152.5h-4.86M1401 222.5h-4.86M1401 291.5h-4.86M1401 360.5h-4.86M1401 430.5h-4.86M1401 499.5h-4.86" stroke="#000" stroke-width="1.11" fill="none"/>
<polyline points="1460.2,534.95 1465.77,535.04 1471.34,534.73 1476.91,535.03 1482.48,534.99 1488.05,534.83 1493.61,356.49 1499.18,510.11 1504.75,535.1 1510.32,535.07 1515.89,534.98 1521.46,535.04 1527.03,535.14 1532.6,535.03 1538.17,535.04 1543.74,534.94 1549.3,535.19 1554.87,535.08 1560.44,534.88 1566.01,534.8 1571.58,535.17 1577.15,534.93 1582.72,535.11 1588.29,535.1 1593.86,387.57 1599.42,535.1 1604.99,535.05 1610.56,534.89 1616.13,534.92 1621.7,535 1627.27,535.04 1632.84,535 1638.41,535.02 1643.98,534.92 1649.55,535.07 1655.12,535 1660.68,533.27 1666.25,535.01 1671.82,535.45 1677.39,534.98 1682.96,534.86 1688.53,387.57 1694.1,535.01 1699.67,534.83 1705.24,535.04 1710.81,535.06 1716.37,534.99 1721.94,534.96 1727.51,534.97 1733.08,534.86 1738.65,534.88 1744.22,534.95 1749.79,535.04 1755.36,535.01 1760.93,534.85 1766.5,534.98 1772.06,535.15 1777.63,535.08 1783.2,535.07 1788.77,422.25 1794.34,534.88 1799.91,535.02 1805.48,535.22 1811.05,534.93 1816.62,534.99 1822.18,535.05 1827.75,534.9 1833.32,535.03 1838.89,535.09 1844.46,534.94 1850.03,535 1855.6,534.54 1861.17,534.35 1866.74,534.32 1872.31,533.03 1877.88,533.55 1883.44,424.31 1889.01,532.14 1894.58,531.39 1900.15,531.08 1905.72,529.78 1911.29,531.19 1916.86,531.41 1922.43,531.53 1928,531.57 1933.57,531.53 1939.13,531.27 1944.7,530.44 1950.27,528.45 1955.84,525.68 1961.41,522.99 1966.98,523.4 1972.55,523.59 1978.12,525.79 1983.69,357.4 1989.26,529.09 1994.82,530.28 2000.39,531.19 2005.96,531.92 2011.53,532.43 2017.1,532.69 2022.67,532.88 2028.24,532.92 2033.81,533.25 2039.38,533.45 2044.95,533.53 2050.51,533.73 2056.08,533.89 2061.65,534.21 2067.22,534.42 2072.79,534.16 2078.36,54.29 2083.93,532.45 2089.5,533.14 2095.07,533.9 2100.64,534.09 2106.2,534.78 2111.77,534.84 2117.34,535.19 2122.91,535.39 2128.48,535.66 2134.05,535.78 2139.62,536.01 2145.19,535.88 2150.76,535.7 2156.32,535.5 2161.89,535.92 2167.46,535.75 2173.03,535.59 2178.6,377.3 2184.17,535.93 2189.74,536.04 2195.31,536.16 2200.88,536.2 2206.45,536.09 2212.01,536.04 2217.58,536.25 2223.15,536.19 2228.72,535.97 2234.29,536.05 2239.86,536.09 2245.43,536.05 2251,536.09 2256.57,535.37 2262.14,535.82 2267.7,535.77 2273.27,509.5 2278.84,535.92 2284.41,535.11 2289.98,534.23 2295.55,535 2301.12,535.84 2306.69,535.87 2312.26,536.07 2317.83,536.18 2323.39,535.9 2328.96,536.01 2334.53,536.01 2340.1,536.1 2345.67,536.15 2351.24,536.35 2356.81,535.95 2362.38,536.12 2367.95,516.49 2373.52,526.6 2379.09,535.96 2384.65,535.97 2390.22,535.94 2395.79,535.75 2401.36,536.01 2406.93,536.14 2412.5,536 2418.07,536.07 2423.64,535.94 2429.21,535.98 2434.78,535.96 2440.34,536.07 2445.91,535.96 2451.48,536.06 2457.05,535.94 2462.62,536.04 2468.19,355.71 2473.76,536.13 2479.33,535.95 2484.9,536.08 2490.47,535.84 2496.03,535.95 2501.6,535.56 2507.17,535.99 2512.74,536.01 2518.31,536.27 2523.88,535.87 2529.45,536.09 2535.02,535.9 2540.59,536.07 2546.15,536.02 2551.72,536.03 2557.29,536.12 2562.86,527.43 2568.43,535.49 2574,536.53 2579.57,536.63 2585.14,536.73 2590.71,536.65 2596.28,536.56 2601.85,536.46 2607.41,536.49 2612.98,536.55 2618.55,536.7" fill="none" stroke="#1f77b4" stroke-width="2.083" stroke-linejoin="round" stroke-linecap="square"/>
<g fill="#f00">
<circle cx="1493.61" cy="356.49" r="4.8"/>
<circle cx="1593.86" cy="387.57" r="4.8"/>
<circle cx="1660.68" cy="533.27" r="4.8"/>
<circle cx="1671.82" cy="535.45" r="4.8"/>
<circle cx="1688.53" cy="387.57" r="4.8"/>
<circle cx="1788.77" cy="422.25" r="4.8"/>
<circle cx="1805.48" cy="535.22" r="4.8"/>
<circle cx="1872.31" cy="533.03" r="4.8"/>
<circle cx="1883.44" cy="424.31" r="4.8"/>
<circle cx="1966.98" cy="523.4" r="4.8"/>
<circle cx="1972.55" cy="523.59" r="4.8"/>
<circle cx="1983.69" cy="357.4" r="4.8"/>
<circle cx="2078.36" cy="54.29" r="4.8"/>
<circle cx="2178.6" cy="377.3" r="4.8"/>
<circle cx="2256.57" cy="535.37" r="4.8"/>
<circle cx="2273.27" cy="509.5" r="4.8"/>
<circle cx="2289.98" cy="534.23" r="4.8"/>
<circle cx="2351.24" cy="536.35" r="4.8"/>
<circle cx="2367.95" cy="516.49" r="4.8"/>
<circle cx="2468.19" cy="355.71" r="4.8"/>
<circle cx="2501.6" cy="535.56" r="4.8"/>
<circle cx="2562.86" cy="527.43" r="4.8"/>
<circle cx="2585.14" cy="536.73" r="4.8"/>
</g>
<rect x="2710.5" y="30.5" width="1275" height="531" fill="none" stroke="#000" stroke-width="1.11"/>
<path d="M2768.5 562v4.86M2912.5 562v4.86M3057.5 562v4.86M3201.5 562v4.86M3345.5 562v4.86M3490.5 562v4.86M3634.5 562v4.86M3778.5 562v4.86M3923.5 562v4.86" stroke="#000" stroke-width="1.11" fill="none"/>
<path d="M2710 61.5h-4.86M2710 146.5h-4.86M2710 231.5h-4.86M2710 316.5h-4.86M2710 401.5h-4.86M2710 486.5h-4.86" stroke="#000" stroke-width="1.11" fill="none"/>
<polyline points="2768.3,318.7 2769.7,470 2771.2,435.2 2772.6,474.3 2774.1,428.7 2775.5,380.8 2777,383.3 2778.4,454.3 2779.8,405.4 2781.3,452.2 2782.7,450.5 2784.2,458.1 2785.6,469.4 2787.1,484.5 2788.5,408.8 2790,406.3 2791.4,433.8 2792.8,463.3 2794.3,481.9 2795.7,393.5 2797.2,421.9 2798.6,441.2 2800.1,457.3 2801.5,487.1 2802.9,327.8 2804.4,411.5 2805.8,489.2 2807.3,474.7 2808.7,462 2810.2,444.6 2811.6,428.4 2813.1,439.1 2814.5,466.6 2815.9,417.7 2817.4,366.9 2818.8,311.9 2820.3,403.4 2821.7,487.1 2823.2,456 2824.6,435.1 2826,415.2 2827.5,382 2828.9,434.4 2830.4,483.6 2831.8,487.5 2833.3,486.2 2834.7,303.4 2836.1,384.5 2837.6,465.8 2839,418.9 2840.5,365.4 2841.9,318 2843.4,273.6 2844.8,370.2 2846.3,476.3 2847.7,409.5 2849.1,333.1 2850.6,369 2852,391.6 2853.5,425.1 2854.9,445 2856.4,408.5 2857.8,383.3 2859.2,409.7 2860.7,255.7 2862.1,265.1 2863.6,321.7 2865,384.1 2866.5,436.9 2867.9,368.8 2869.4,317.3 2870.8,349.8 2872.2,390.5 2873.7,418.6 2875.1,462.4 2876.6,397.4 2878,338.2 2879.5,392.9 2880.9,449.6 2882.3,402.6 2883.8,373.3 2885.2,326.4 2886.7,374.5 2888.1,431.4 2889.6,478.5 2891,403.8 2892.4,339.1 2893.9,390.8 2895.3,447.3 2896.8,482.8 2898.2,463.3 2899.7,441 2901.1,420.9 2902.6,394.8 2904,418.3 2905.4,436.9 2906.9,387.8 2908.3,410 2909.8,425 2911.2,322.1 2912.7,443.7 2914.1,413.5 2915.5,477.7 2917,425.5 2918.4,378.2 2919.9,423.7 2921.3,470.5 2922.8,407.9 2924.2,339.1 2925.7,377.3 2927.1,420.4 2928.5,457.7 2930,439.8 2931.4,415.2 2932.9,398.6 2934.3,463.2 2935.8,450 2937.2,441.9 2938.6,434.3 2940.1,455.6 2941.5,397.2 2943,426.3 2944.4,459 2945.9,454.8 2947.3,434.8 2948.8,424.1 2950.2,439.5 2951.6,453 2953.1,469.2 2954.5,391.3 2956,397.4 2957.4,402 2958.9,435.5 2960.3,476 2961.7,402.9 2963.2,380.5 2964.6,354 2966.1,415.6 2967.5,484.5 2969,491.2 2970.4,483.6 2971.8,423 2973.3,363.1 2974.7,390.2 2976.2,430.9 2977.6,457.2 2979.1,492.7 2980.5,467.1 2982,440.3 2983.4,449.6 2984.8,402.5 2986.3,427.3 2987.7,466.3 2989.2,490.5 2990.6,486.9 2992.1,481.6 2993.5,482.9 2994.9,476.3 2996.4,481.6 2997.8,481.5 2999.3,490.5 3000.7,447.9 3002.2,465.8 3003.6,476.7 3005.1,465.2 3006.5,481.9 3007.9,496.9 3009.4,493.2 3010.8,507.8 3012.3,465.2 3013.7,425.8 3015.2,489.2 3016.6,455.9 3018,419 3019.5,480.2 3020.9,426.3 3022.4,358.6 3023.8,437.9 3025.3,516 3026.7,462.4 3028.1,414.2 3029.6,450.5 3031,494.8 3032.5,531.9 3033.9,514.6 3035.4,484.2 3036.8,454.3 3038.3,484.5 3039.7,459.6 3041.1,442.7 3042.6,418.2 3044,433.5 3045.5,435.6 3046.9,468.1 3048.4,502.7 3049.8,480.4 3051.2,451.5 3052.7,468.7 3054.1,496.1 3055.6,469.1 3057,437.5 3058.5,497.8 3059.9,459.9 3061.4,419.8 3062.8,383.9 3064.2,454.6 3065.7,537 3067.1,508.2 3068.6,476.8 3070,449.1 3071.5,448.5 3072.9,442.8 3074.3,438.6 3075.8,430.5 3077.2,453.2 3078.7,472.8 3080.1,471.1 3081.6,478.6 3083,479.9 3084.4,484.5 3085.9,474.7 3087.3,461.6 3088.8,449.1 3090.2,469.2 3091.7,463.8 3093.1,449.6 3094.6,450.8 3096,461.7 3097.4,470.3 3098.9,483.6 3100.3,481.1 3101.8,485.1 3103.2,489.9 3104.7,444.1 3106.1,402 3107.5,449.6 3109,418.2 3110.4,439.2 3111.9,456 3113.3,481.2 3114.8,495 3116.2,455.6 3117.7,432.6 3119.1,405.4 3120.5,379.2 3122,528.7 3123.4,527.5 3124.9,531.3 3126.3,434.5 3127.8,429.1 3129.2,425.1 3130.6,412.2 3132.1,379.2 3133.5,424.1 3135,385.5 3136.4,431.4 3137.9,476 3139.3,419.3 3140.7,430.9 3142.2,427.5 3143.6,442.3 3145.1,456.6 3146.5,453.9 3148,454.1 3149.4,461.9 3150.9,448.4 3152.3,458.1 3153.7,455.6 3155.2,442.8 3156.6,443.6 3158.1,430.1 3159.5,430.5 3161,424.7 3162.4,432.6 3163.8,481.1 3165.3,470.6 3166.7,460.7 3168.2,482.7 3169.6,488.6 3171.1,505.7 3172.5,517.2 3174,483.6 3175.4,447 3176.8,419.4 3178.3,382 3179.7,386.6 3181.2,411.7 3182.6,425.1 3184.1,428.4 3185.5,433.6 3186.9,449.6 3188.4,424.1 3189.8,388.4 3191.3,387 3192.7,376.5 3194.2,450.2 3195.6,510 3197,498.8 3198.5,477.7 3199.9,466.6 3201.4,463.2 3202.8,395.4 3204.3,318.8 3205.7,354.6 3207.2,405.9 3208.6,450.4 3210,485.8 3211.5,491.3 3212.9,490.7 3214.4,484.5 3215.8,479.2 3217.3,476 3218.7,457.9 3220.1,432.6 3221.6,231.6 3223,270.8 3224.5,290.6 3225.9,276.6 3227.4,312.6 3228.8,354.6 3230.3,384.2 3231.7,323.8 3233.1,326.6 3234.6,336.7 3236,337.4 3237.5,390.1 3238.9,393.5 3240.4,397.8 3241.8,409.7 3243.2,417.7 3244.7,432.4 3246.1,322.1 3247.6,312.4 3249,263.1 3250.5,230.6 3251.9,272 3253.3,296.2 3254.8,283 3256.2,318.1 3257.7,356.8 3259.1,335.1 3260.6,346.9 3262,339.9 3263.5,309.1 3264.9,318.8 3266.3,314 3267.8,334.8 3269.2,371 3270.7,380.4 3272.1,316.3 3273.6,330.2 3275,250.1 3276.4,172.9 3277.9,207.8 3279.3,250.6 3280.8,296.2 3282.2,297.1 3283.7,286.4 3285.1,274 3286.6,370.5 3288,390.1 3289.4,403.3 3290.9,411.9 3292.3,413.1 3293.8,410.8 3295.2,411.8 3296.7,409.7 3298.1,378.8 3299.5,514.3 3301,467.4 3302.4,417.8 3303.9,432.6 3305.3,447.1 3306.8,450.5 3308.2,474.5 3309.7,479.4 3311.1,401.2 3312.5,419.9 3314,448.8 3315.4,492.2 3316.9,524.5 3318.3,513.8 3319.8,505.2 3321.2,403.3 3322.6,394.1 3324.1,373.9 3325.5,440.4 3327,503.6 3328.4,452.5 3329.9,396.1 3331.3,460.4 3332.7,524.5 3334.2,450.5 3335.6,499 3337.1,308.5 3338.5,358.6 3340,409.4 3341.4,472.8 3342.9,395.6 3344.3,323.1 3345.7,242.1 3347.2,237 3348.6,349.1 3350.1,471.9 3351.5,411.3 3353,349.3 3354.4,293.2 3355.8,241.3 3357.3,346.5 3358.7,447.1 3360.2,302 3361.6,304.8 3363.1,302 3364.5,498.8 3366,396.8 3367.4,301.1 3368.8,316.1 3370.3,375.1 3371.7,438.9 3373.2,497.8 3374.6,409.1 3376.1,331 3377.5,247.4 3378.9,247.4 3380.4,338.8 3381.8,430.6 3383.3,512.6 3384.7,467.9 3386.2,424.3 3387.6,391 3389,490 3390.5,478.9 3391.9,477.7 3393.4,490.5 3394.8,328.9 3396.3,315.3 3397.7,491.3 3399.2,448.8 3400.6,480.2 3402,336.5 3403.5,330.8 3404.9,394 3406.4,454.4 3407.8,371.5 3409.3,294.3 3410.7,358.4 3412.1,430.5 3413.6,496.4 3415,303.4 3416.5,358.6 3417.9,424.1 3419.4,335.9 3420.8,245.2 3422.3,370.9 3423.7,498.8 3425.1,501 3426.6,514 3428,279.8 3429.5,393.7 3430.9,503 3432.4,391.5 3433.8,275.3 3435.2,489.1 3436.7,462.1 3438.1,435.2 3439.6,270.7 3441,375.8 3442.5,493.9 3443.9,502.6 3445.3,506.2 3446.8,506.9 3448.2,500.7 3449.7,504.3 3451.1,330.8 3452.6,412.7 3454,497.3 3455.5,497.1 3456.9,501 3458.3,285.8 3459.8,390.6 3461.2,494.7 3462.7,495.6 3464.1,246.1 3465.6,380.6 3467,521.4 3468.4,500.9 3469.9,464.9 3471.3,274.5 3472.8,403.8 3474.2,520.5 3475.7,422.4 3477.1,334.4 3478.6,506.9 3480,510.3 3481.4,510.9 3482.9,510 3484.3,420.5 3485.8,333.5 3487.2,412 3488.7,498.1 3490.1,459.9 3491.5,437.2 3493,455.1 3494.4,356.8 3495.9,255.2 3497.3,353.8 3498.8,459.8 3500.2,458.2 3501.6,463.2 3503.1,373.4 3504.5,278.6 3506,184.9 3507.4,485.8 3508.9,456.4 3510.3,468.7 3511.8,321.1 3513.2,183.3 3514.6,329.8 3516.1,467.5 3517.5,369.2 3519,265.1 3520.4,369.7 3521.9,474.5 3523.3,432.6 3524.7,459.8 3526.2,323.2 3527.6,175.9 3529.1,259.1 3530.5,359.2 3532,453.5 3533.4,336.8 3534.9,225.1 3536.3,420.7 3537.7,444.8 3539.2,465.5 3540.6,374.8 3542.1,283.3 3543.5,194.9 3545,436.3 3546.4,438.4 3547.8,434.3 3549.3,361.5 3550.7,288.1 3552.2,361.7 3553.6,439.4 3555.1,439.6 3556.5,442 3557.9,275.9 3559.4,325.3 3560.8,365.8 3562.3,365.8 3563.7,371.3 3565.2,375.9 3566.6,369 3568.1,263 3569.5,334.4 3570.9,328.9 3572.4,331.9 3573.8,291.1 3575.3,242.6 3576.7,334.7 3578.2,408 3579.6,395.9 3581,390.1 3582.5,323 3583.9,253.2 3585.4,347 3586.8,431.4 3588.3,355.4 3589.7,291.5 3591.2,348.4 3592.6,397.8 3594,451.8 3595.5,451.8 3596.9,463.2 3598.4,184 3599.8,329.2 3601.3,464.9 3602.7,466.4 3604.1,473.2 3605.6,470.4 3607,472.8 3608.5,345 3609.9,226 3611.4,377.3 3612.8,367.7 3614.2,348 3615.7,350.1 3617.1,289.3 3618.6,241.3 3620,233.6 3621.5,352.9 3622.9,346.1 3624.4,348 3625.8,276.1 3627.2,216 3628.7,142 3630.1,256.4 3631.6,383 3633,382.7 3634.5,375.6 3635.9,381.8 3637.3,390.1 3638.8,384.7 3640.2,384.2 3641.7,247 3643.1,113.5 3644.6,202.1 3646,293 3647.5,383.6 3648.9,379.6 3650.3,381.1 3651.8,382.6 3653.2,384.2 3654.7,381.1 3656.1,385.3 3657.6,218.3 3659,239.6 3660.4,346.4 3661.9,338.2 3663.3,339 3664.8,341.6 3666.2,125.5 3667.7,262.6 3669.1,399.8 3670.6,386.9 3672,387.3 3673.4,384.2 3674.9,232.2 3676.3,71.7 3677.8,353.8 3679.2,346.4 3680.7,349.6 3682.1,351.2 3683.5,350.8 3685,347 3686.4,347.2 3687.9,346.4 3689.3,346.8 3690.8,345.8 3692.2,343.9 3693.6,342 3695.1,343.2 3696.5,345.1 3698,345 3699.4,342.4 3700.9,340.2 3702.3,335.1 3703.8,333.4 3705.2,335 3706.6,332.4 3708.1,330.3 3709.5,330.2 3711,331.4 3712.4,329.2 3713.9,332.4 3715.3,345.7 3716.7,343.5 3718.2,344.5 3719.6,342.1 3721.1,344.9 3722.5,344.1 3724,346.4 3725.4,346.3 3726.9,347.8 3728.3,349.6 3729.7,348.4 3731.2,346 3732.6,347.9 3734.1,344.8 3735.5,342.7 3737,340.9 3738.4,339.9 3739.8,332.7 3741.3,333.3 3742.7,330.2 3744.2,327.9 3745.6,328.5 3747.1,332.4 3748.5,354.5 3749.9,357.6 3751.4,361.6 3752.8,361.6 3754.3,362.9 3755.7,363.6 3757.2,364.8 3758.6,364.5 3760.1,365.9 3761.5,366.4 3762.9,366.8 3764.4,365.8 3765.8,364.8 3767.3,365.8 3768.7,364.8 3770.2,365.3 3771.6,361.1 3773,362.6 3774.5,360.9 3775.9,360.4 3777.4,357.3 3778.8,357.2 3780.3,355.2 3781.7,367.4 3783.2,362.7 3784.6,357.7 3786,357.5 3787.5,356 3788.9,356.3 3790.4,356.1 3791.8,355.1 3793.3,354.4 3794.7,352.6 3796.1,352.9 3797.6,359.3 3799,358.4 3800.5,357.8 3801.9,356.4 3803.4,356.1 3804.8,353.6 3806.2,353.6 3807.7,349.6 3809.1,348 3810.6,356.1 3812,386.9 3813.5,385.7 3814.9,385.3 3816.4,389.3 3817.8,389.4 3819.2,389.1 3820.7,387.2 3822.1,385.3 3823.6,404.6 3825,414.9 3826.5,416.8 3827.9,418.2 3829.3,416.1 3830.8,419.4 3832.2,414.5 3833.7,414.4 3835.1,409.7 3836.6,404.6 3838,388.8 3839.5,390.1 3840.9,383 3842.3,359.3 3843.8,357.1 3845.2,349.6 3846.7,357.8 3848.1,53.6 3849.6,312.4 3851,316 3852.4,328.6 3853.9,349.1 3855.3,362.6 3856.8,363.7 3858.2,246.3 3859.7,120.3 3861.1,380.4 3862.5,376.4 3864,367.4 3865.4,319.7 3866.9,263.1 3868.3,205.6 3869.8,203.7 3871.2,239.6 3872.7,396.6 3874.1,373 3875.5,338.3 3877,343.3 3878.4,395 3879.9,84 3881.3,244.1 3882.8,409.7 3884.2,414.7 3885.6,422 3887.1,420.7 3888.5,267 3890,114.5 3891.4,423.3 3892.9,428.9 3894.3,432.4 3895.8,421.8 3897.2,430.9 3898.6,378.5 3900.1,327 3901.5,273.6 3903,442 3904.4,426.5 3905.9,415.6 3907.3,447.1 3908.7,279.8 3910.2,375.6 3911.6,355.2 3913.1,365.8 3914.5,406.1 3916,447.9 3917.4,97.3 3918.8,395 3920.3,365.8 3921.7,396.6 3923.2,390.1 3924.6,212.8 3926.1,403.3" fill="none" stroke="#1f77b4" stroke-width="2.083" stroke-linejoin="round" stroke-linecap="square"/>
<g opacity="0.999" stroke="#000" stroke-width="0.3">
<text x="162.97" y="582" font-size="14.1" textLength="19.96" lengthAdjust="spacingAndGlyphs">−1</text>
<text x="307.78" y="582" font-size="14.1" textLength="8.62" lengthAdjust="spacingAndGlyphs">0</text>
<text x="446.92" y="582" font-size="14.1" textLength="8.62" lengthAdjust="spacingAndGlyphs">1</text>
<text x="586.06" y="582" font-size="14.1" textLength="8.62" lengthAdjust="spacingAndGlyphs">2</text>
<text x="725.2" y="582" font-size="14.1" textLength="8.62" lengthAdjust="spacingAndGlyphs">3</text>
<text x="864.34" y="582" font-size="14.1" textLength="8.62" lengthAdjust="spacingAndGlyphs">4</text>
<text x="1003.48" y="582" font-size="14.1" textLength="8.62" lengthAdjust="spacingAndGlyphs">5</text>
<text x="35.42" y="111.8" font-size="14.1" textLength="47.38" lengthAdjust="spacingAndGlyphs">1422.0</text>
<text x="35.42" y="187.8" font-size="14.1" textLength="47.38" lengthAdjust="spacingAndGlyphs">1421.5</text>
<text x="35.42" y="263.8" font-size="14.1" textLength="47.38" lengthAdjust="spacingAndGlyphs">1421.0</text>
<text x="35.42" y="339.8" font-size="14.1" textLength="47.38" lengthAdjust="spacingAndGlyphs">1420.5</text>
<text x="35.42" y="415.8" font-size="14.1" textLength="47.38" lengthAdjust="spacingAndGlyphs">1420.0</text>
<text x="35.42" y="491.8" font-size="14.1" textLength="47.38" lengthAdjust="spacingAndGlyphs">1419.5</text>
<text x="17.16" y="297" font-size="14.1" textLength="17.88" lengthAdjust="spacingAndGlyphs" transform="rotate(-90 26.1 297)">SX</text>
<text x="1214.3" y="326.9" font-size="14.1" textLength="17.23" lengthAdjust="spacingAndGlyphs">10</text>
<text x="1231.83" y="321.9" font-size="10.56" textLength="12.9" lengthAdjust="spacingAndGlyphs">12</text>
<text x="1433.31" y="582" font-size="14.1" textLength="47.38" lengthAdjust="spacingAndGlyphs">1419.0</text>
<text x="1599.31" y="582" font-size="14.1" textLength="47.38" lengthAdjust="spacingAndGlyphs">1419.5</text>
<text x="1765.31" y="582" font-size="14.1" textLength="47.38" lengthAdjust="spacingAndGlyphs">1420.0</text>
<text x="1931.31" y="582" font-size="14.1" textLength="47.38" lengthAdjust="spacingAndGlyphs">1420.5</text>
<text x="2097.31" y="582" font-size="14.1" textLength="47.38" lengthAdjust="spacingAndGlyphs">1421.0</text>
<text x="2263.31" y="582" font-size="14.1" textLength="47.38" lengthAdjust="spacingAndGlyphs">1421.5</text>
<text x="2429.31" y="582" font-size="14.1" textLength="47.38" lengthAdjust="spacingAndGlyphs">1422.0</text>
<text x="2595.31" y="582" font-size="14.1" textLength="47.38" lengthAdjust="spacingAndGlyphs">1422.5</text>
<text x="1360.65" y="88.81" font-size="14.1" textLength="30.15" lengthAdjust="spacingAndGlyphs">2.00</text>
<text x="1360.65" y="158.14" font-size="14.1" textLength="30.15" lengthAdjust="spacingAndGlyphs">1.75</text>
<text x="1360.65" y="227.48" font-size="14.1" textLength="30.15" lengthAdjust="spacingAndGlyphs">1.50</text>
<text x="1360.65" y="296.81" font-size="14.1" textLength="30.15" lengthAdjust="spacingAndGlyphs">1.25</text>
<text x="1360.65" y="366.14" font-size="14.1" textLength="30.15" lengthAdjust="spacingAndGlyphs">1.00</text>
<text x="1360.65" y="435.47" font-size="14.1" textLength="30.15" lengthAdjust="spacingAndGlyphs">0.75</text>
<text x="1360.65" y="504.81" font-size="14.1" textLength="30.15" lengthAdjust="spacingAndGlyphs">0.50</text>
<text x="1401.5" y="26.4" font-size="14.1" textLength="34.18" lengthAdjust="spacingAndGlyphs">1e12</text>
<text x="2764.49" y="582" font-size="14.1" textLength="8.62" lengthAdjust="spacingAndGlyphs">0</text>
<text x="2899.74" y="582" font-size="14.1" textLength="25.85" lengthAdjust="spacingAndGlyphs">100</text>
<text x="3044.1" y="582" font-size="14.1" textLength="25.85" lengthAdjust="spacingAndGlyphs">200</text>
<text x="3188.46" y="582" font-size="14.1" textLength="25.85" lengthAdjust="spacingAndGlyphs">300</text>
<text x="3332.82" y="582" font-size="14.1" textLength="25.85" lengthAdjust="spacingAndGlyphs">400</text>
<text x="3477.18" y="582" font-size="14.1" textLength="25.85" lengthAdjust="spacingAndGlyphs">500</text>
<text x="3621.54" y="582" font-size="14.1" textLength="25.85" lengthAdjust="spacingAndGlyphs">600</text>
<text x="3765.9" y="582" font-size="14.1" textLength="25.85" lengthAdjust="spacingAndGlyphs">700</text>
<text x="3910.26" y="582" font-size="14.1" textLength="25.85" lengthAdjust="spacingAndGlyphs">800</text>
<text x="2691.18" y="66.8" font-size="14.1" textLength="8.62" lengthAdjust="spacingAndGlyphs">8</text>
<text x="2691.18" y="151.8" font-size="14.1" textLength="8.62" lengthAdjust="spacingAndGlyphs">7</text>
<text x="2691.18" y="236.8" font-size="14.1" textLength="8.62" lengthAdjust="spacingAndGlyphs">6</text>
<text x="2691.18" y="321.8" font-size="14.1" textLength="8.62" lengthAdjust="spacingAndGlyphs">5</text>
<text x="2691.18" y="406.8" font-size="14.1" textLength="8.62" lengthAdjust="spacingAndGlyphs">4</text>
<text x="2691.18" y="491.8" font-size="14.1" textLength="8.62" lengthAdjust="spacingAndGlyphs">3</text>
<text x="2710.5" y="26.4" font-size="14.1" textLength="34.18" lengthAdjust="spacingAndGlyphs">1e11</text>
</g>
</svg></body></html>
